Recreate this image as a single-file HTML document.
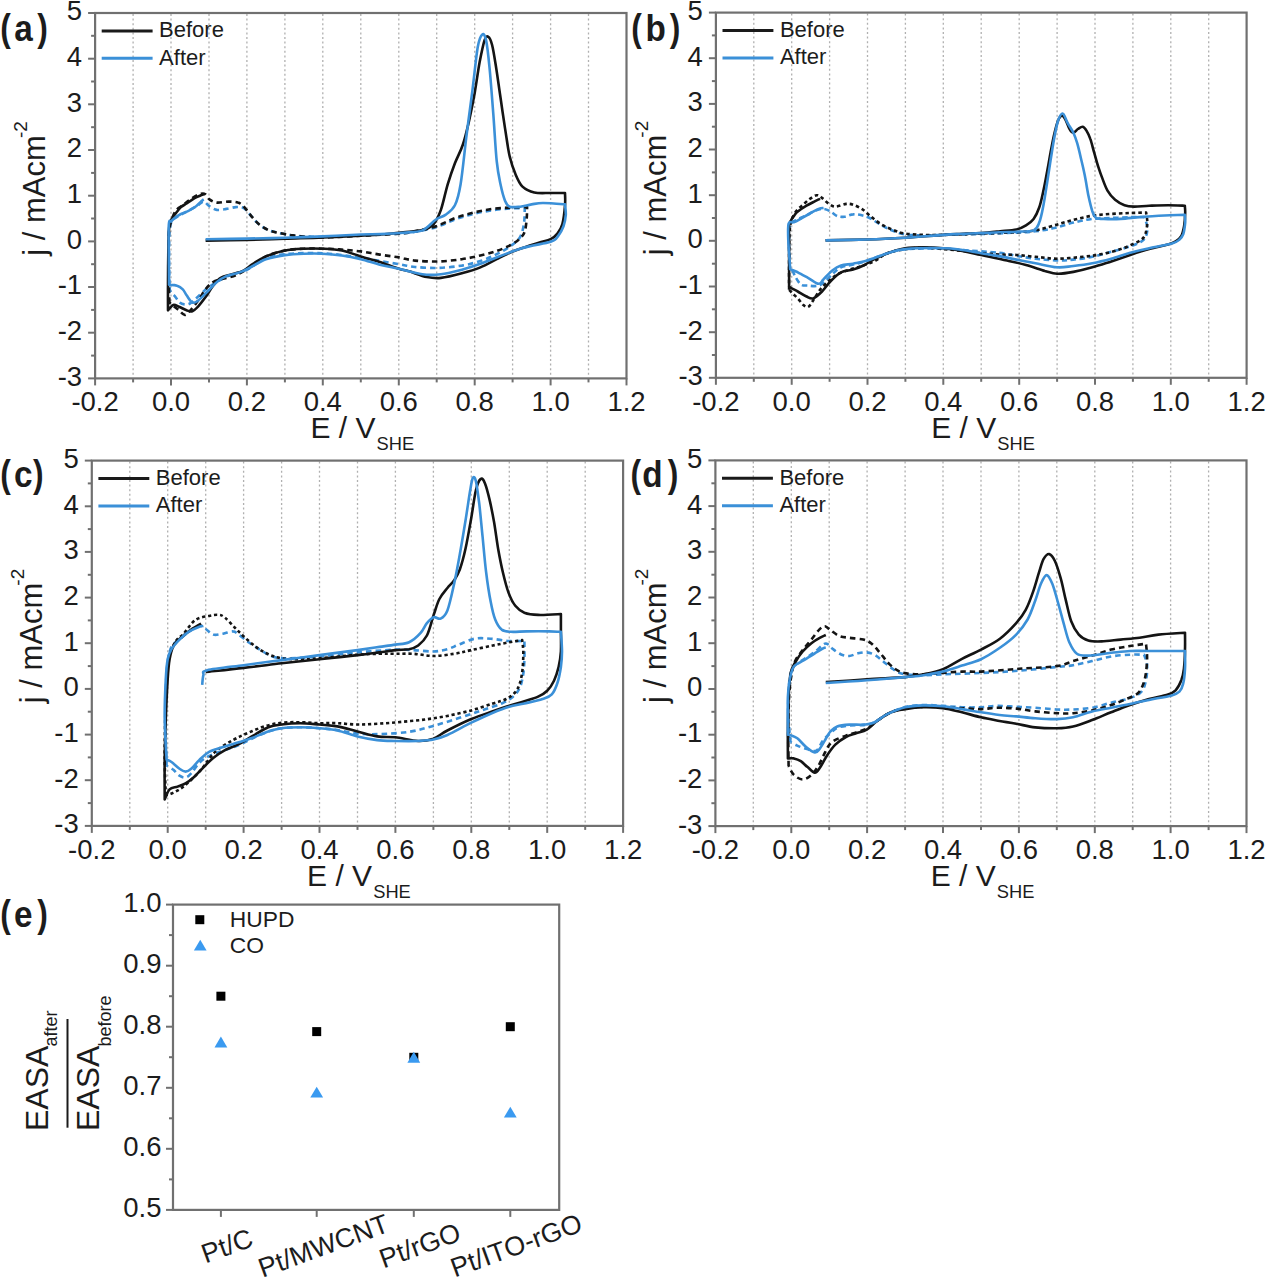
<!DOCTYPE html>
<html><head><meta charset="utf-8"><style>
html,body{margin:0;padding:0;background:#fff;}
svg{display:block;}
text{font-family:"Liberation Sans", sans-serif;fill:#1c1c1c;}
</style></head><body>
<svg width="1267" height="1280" viewBox="0 0 1267 1280">
<rect width="1267" height="1280" fill="#fff"/>
<line x1="133.1" y1="14" x2="133.1" y2="377.4" stroke="#b0b0b0" stroke-width="1.3" stroke-dasharray="2 2.6"/>
<line x1="171" y1="14" x2="171" y2="377.4" stroke="#b0b0b0" stroke-width="1.3" stroke-dasharray="2 2.6"/>
<line x1="209" y1="14" x2="209" y2="377.4" stroke="#b0b0b0" stroke-width="1.3" stroke-dasharray="2 2.6"/>
<line x1="246.9" y1="14" x2="246.9" y2="377.4" stroke="#b0b0b0" stroke-width="1.3" stroke-dasharray="2 2.6"/>
<line x1="284.9" y1="14" x2="284.9" y2="377.4" stroke="#b0b0b0" stroke-width="1.3" stroke-dasharray="2 2.6"/>
<line x1="322.8" y1="14" x2="322.8" y2="377.4" stroke="#b0b0b0" stroke-width="1.3" stroke-dasharray="2 2.6"/>
<line x1="360.8" y1="14" x2="360.8" y2="377.4" stroke="#b0b0b0" stroke-width="1.3" stroke-dasharray="2 2.6"/>
<line x1="398.8" y1="14" x2="398.8" y2="377.4" stroke="#b0b0b0" stroke-width="1.3" stroke-dasharray="2 2.6"/>
<line x1="436.7" y1="14" x2="436.7" y2="377.4" stroke="#b0b0b0" stroke-width="1.3" stroke-dasharray="2 2.6"/>
<line x1="474.7" y1="14" x2="474.7" y2="377.4" stroke="#b0b0b0" stroke-width="1.3" stroke-dasharray="2 2.6"/>
<line x1="512.6" y1="14" x2="512.6" y2="377.4" stroke="#b0b0b0" stroke-width="1.3" stroke-dasharray="2 2.6"/>
<line x1="550.6" y1="14" x2="550.6" y2="377.4" stroke="#b0b0b0" stroke-width="1.3" stroke-dasharray="2 2.6"/>
<line x1="588.5" y1="14" x2="588.5" y2="377.4" stroke="#b0b0b0" stroke-width="1.3" stroke-dasharray="2 2.6"/>
<line x1="95.1" y1="378.4" x2="95.1" y2="385.4" stroke="#707070" stroke-width="2"/>
<line x1="133.1" y1="378.4" x2="133.1" y2="382.4" stroke="#707070" stroke-width="2"/>
<line x1="171" y1="378.4" x2="171" y2="385.4" stroke="#707070" stroke-width="2"/>
<line x1="209" y1="378.4" x2="209" y2="382.4" stroke="#707070" stroke-width="2"/>
<line x1="246.9" y1="378.4" x2="246.9" y2="385.4" stroke="#707070" stroke-width="2"/>
<line x1="284.9" y1="378.4" x2="284.9" y2="382.4" stroke="#707070" stroke-width="2"/>
<line x1="322.8" y1="378.4" x2="322.8" y2="385.4" stroke="#707070" stroke-width="2"/>
<line x1="360.8" y1="378.4" x2="360.8" y2="382.4" stroke="#707070" stroke-width="2"/>
<line x1="398.8" y1="378.4" x2="398.8" y2="385.4" stroke="#707070" stroke-width="2"/>
<line x1="436.7" y1="378.4" x2="436.7" y2="382.4" stroke="#707070" stroke-width="2"/>
<line x1="474.7" y1="378.4" x2="474.7" y2="385.4" stroke="#707070" stroke-width="2"/>
<line x1="512.6" y1="378.4" x2="512.6" y2="382.4" stroke="#707070" stroke-width="2"/>
<line x1="550.6" y1="378.4" x2="550.6" y2="385.4" stroke="#707070" stroke-width="2"/>
<line x1="588.5" y1="378.4" x2="588.5" y2="382.4" stroke="#707070" stroke-width="2"/>
<line x1="626.5" y1="378.4" x2="626.5" y2="385.4" stroke="#707070" stroke-width="2"/>
<line x1="95.1" y1="378.4" x2="88.1" y2="378.4" stroke="#707070" stroke-width="2"/>
<line x1="95.1" y1="355.6" x2="91.1" y2="355.6" stroke="#707070" stroke-width="2"/>
<line x1="95.1" y1="332.7" x2="88.1" y2="332.7" stroke="#707070" stroke-width="2"/>
<line x1="95.1" y1="309.9" x2="91.1" y2="309.9" stroke="#707070" stroke-width="2"/>
<line x1="95.1" y1="287" x2="88.1" y2="287" stroke="#707070" stroke-width="2"/>
<line x1="95.1" y1="264.2" x2="91.1" y2="264.2" stroke="#707070" stroke-width="2"/>
<line x1="95.1" y1="241.4" x2="88.1" y2="241.4" stroke="#707070" stroke-width="2"/>
<line x1="95.1" y1="218.5" x2="91.1" y2="218.5" stroke="#707070" stroke-width="2"/>
<line x1="95.1" y1="195.7" x2="88.1" y2="195.7" stroke="#707070" stroke-width="2"/>
<line x1="95.1" y1="172.9" x2="91.1" y2="172.9" stroke="#707070" stroke-width="2"/>
<line x1="95.1" y1="150" x2="88.1" y2="150" stroke="#707070" stroke-width="2"/>
<line x1="95.1" y1="127.2" x2="91.1" y2="127.2" stroke="#707070" stroke-width="2"/>
<line x1="95.1" y1="104.3" x2="88.1" y2="104.3" stroke="#707070" stroke-width="2"/>
<line x1="95.1" y1="81.5" x2="91.1" y2="81.5" stroke="#707070" stroke-width="2"/>
<line x1="95.1" y1="58.7" x2="88.1" y2="58.7" stroke="#707070" stroke-width="2"/>
<line x1="95.1" y1="35.8" x2="91.1" y2="35.8" stroke="#707070" stroke-width="2"/>
<line x1="95.1" y1="13" x2="88.1" y2="13" stroke="#707070" stroke-width="2"/>
<rect x="95.1" y="13" width="531.4" height="365.4" fill="none" stroke="#707070" stroke-width="2.2"/>
<text x="82.1" y="385.8" text-anchor="end" font-size="27.5">-3</text>
<text x="82.1" y="340.1" text-anchor="end" font-size="27.5">-2</text>
<text x="82.1" y="294.4" text-anchor="end" font-size="27.5">-1</text>
<text x="82.1" y="248.8" text-anchor="end" font-size="27.5">0</text>
<text x="82.1" y="203.1" text-anchor="end" font-size="27.5">1</text>
<text x="82.1" y="157.4" text-anchor="end" font-size="27.5">2</text>
<text x="82.1" y="111.8" text-anchor="end" font-size="27.5">3</text>
<text x="82.1" y="66.1" text-anchor="end" font-size="27.5">4</text>
<text x="82.1" y="20.4" text-anchor="end" font-size="27.5">5</text>
<text x="95.1" y="411.3" text-anchor="middle" font-size="27.5">-0.2</text>
<text x="171" y="411.3" text-anchor="middle" font-size="27.5">0.0</text>
<text x="246.9" y="411.3" text-anchor="middle" font-size="27.5">0.2</text>
<text x="322.8" y="411.3" text-anchor="middle" font-size="27.5">0.4</text>
<text x="398.8" y="411.3" text-anchor="middle" font-size="27.5">0.6</text>
<text x="474.7" y="411.3" text-anchor="middle" font-size="27.5">0.8</text>
<text x="550.6" y="411.3" text-anchor="middle" font-size="27.5">1.0</text>
<text x="626.5" y="411.3" text-anchor="middle" font-size="27.5">1.2</text>
<text x="310.4" y="438.2" font-size="30">E / V</text>
<text x="376.5" y="450.4" font-size="18.3">SHE</text>
<text transform="translate(45.4,255.7) rotate(-90)" font-size="31">j / mAcm</text>
<text transform="translate(27.4,138.1) rotate(-90)" font-size="19">-2</text>
<line x1="101.7" y1="30.9" x2="152.6" y2="30.9" stroke="#1a1a1a" stroke-width="3"/>
<line x1="101.7" y1="58.3" x2="152.6" y2="58.3" stroke="#3b90d8" stroke-width="3"/>
<text x="159.1" y="37.4" font-size="22">Before</text>
<text x="159.1" y="64.8" font-size="22">After</text>
<line x1="753.8" y1="13.6" x2="753.8" y2="376.8" stroke="#b0b0b0" stroke-width="1.3" stroke-dasharray="2 2.6"/>
<line x1="791.7" y1="13.6" x2="791.7" y2="376.8" stroke="#b0b0b0" stroke-width="1.3" stroke-dasharray="2 2.6"/>
<line x1="829.6" y1="13.6" x2="829.6" y2="376.8" stroke="#b0b0b0" stroke-width="1.3" stroke-dasharray="2 2.6"/>
<line x1="867.5" y1="13.6" x2="867.5" y2="376.8" stroke="#b0b0b0" stroke-width="1.3" stroke-dasharray="2 2.6"/>
<line x1="905.4" y1="13.6" x2="905.4" y2="376.8" stroke="#b0b0b0" stroke-width="1.3" stroke-dasharray="2 2.6"/>
<line x1="943.3" y1="13.6" x2="943.3" y2="376.8" stroke="#b0b0b0" stroke-width="1.3" stroke-dasharray="2 2.6"/>
<line x1="981.2" y1="13.6" x2="981.2" y2="376.8" stroke="#b0b0b0" stroke-width="1.3" stroke-dasharray="2 2.6"/>
<line x1="1019.2" y1="13.6" x2="1019.2" y2="376.8" stroke="#b0b0b0" stroke-width="1.3" stroke-dasharray="2 2.6"/>
<line x1="1057.1" y1="13.6" x2="1057.1" y2="376.8" stroke="#b0b0b0" stroke-width="1.3" stroke-dasharray="2 2.6"/>
<line x1="1095" y1="13.6" x2="1095" y2="376.8" stroke="#b0b0b0" stroke-width="1.3" stroke-dasharray="2 2.6"/>
<line x1="1132.9" y1="13.6" x2="1132.9" y2="376.8" stroke="#b0b0b0" stroke-width="1.3" stroke-dasharray="2 2.6"/>
<line x1="1170.8" y1="13.6" x2="1170.8" y2="376.8" stroke="#b0b0b0" stroke-width="1.3" stroke-dasharray="2 2.6"/>
<line x1="1208.7" y1="13.6" x2="1208.7" y2="376.8" stroke="#b0b0b0" stroke-width="1.3" stroke-dasharray="2 2.6"/>
<line x1="715.9" y1="377.8" x2="715.9" y2="384.8" stroke="#707070" stroke-width="2"/>
<line x1="753.8" y1="377.8" x2="753.8" y2="381.8" stroke="#707070" stroke-width="2"/>
<line x1="791.7" y1="377.8" x2="791.7" y2="384.8" stroke="#707070" stroke-width="2"/>
<line x1="829.6" y1="377.8" x2="829.6" y2="381.8" stroke="#707070" stroke-width="2"/>
<line x1="867.5" y1="377.8" x2="867.5" y2="384.8" stroke="#707070" stroke-width="2"/>
<line x1="905.4" y1="377.8" x2="905.4" y2="381.8" stroke="#707070" stroke-width="2"/>
<line x1="943.3" y1="377.8" x2="943.3" y2="384.8" stroke="#707070" stroke-width="2"/>
<line x1="981.2" y1="377.8" x2="981.2" y2="381.8" stroke="#707070" stroke-width="2"/>
<line x1="1019.2" y1="377.8" x2="1019.2" y2="384.8" stroke="#707070" stroke-width="2"/>
<line x1="1057.1" y1="377.8" x2="1057.1" y2="381.8" stroke="#707070" stroke-width="2"/>
<line x1="1095" y1="377.8" x2="1095" y2="384.8" stroke="#707070" stroke-width="2"/>
<line x1="1132.9" y1="377.8" x2="1132.9" y2="381.8" stroke="#707070" stroke-width="2"/>
<line x1="1170.8" y1="377.8" x2="1170.8" y2="384.8" stroke="#707070" stroke-width="2"/>
<line x1="1208.7" y1="377.8" x2="1208.7" y2="381.8" stroke="#707070" stroke-width="2"/>
<line x1="1246.6" y1="377.8" x2="1246.6" y2="384.8" stroke="#707070" stroke-width="2"/>
<line x1="715.9" y1="377.8" x2="708.9" y2="377.8" stroke="#707070" stroke-width="2"/>
<line x1="715.9" y1="355" x2="711.9" y2="355" stroke="#707070" stroke-width="2"/>
<line x1="715.9" y1="332.2" x2="708.9" y2="332.2" stroke="#707070" stroke-width="2"/>
<line x1="715.9" y1="309.3" x2="711.9" y2="309.3" stroke="#707070" stroke-width="2"/>
<line x1="715.9" y1="286.5" x2="708.9" y2="286.5" stroke="#707070" stroke-width="2"/>
<line x1="715.9" y1="263.7" x2="711.9" y2="263.7" stroke="#707070" stroke-width="2"/>
<line x1="715.9" y1="240.8" x2="708.9" y2="240.8" stroke="#707070" stroke-width="2"/>
<line x1="715.9" y1="218" x2="711.9" y2="218" stroke="#707070" stroke-width="2"/>
<line x1="715.9" y1="195.2" x2="708.9" y2="195.2" stroke="#707070" stroke-width="2"/>
<line x1="715.9" y1="172.4" x2="711.9" y2="172.4" stroke="#707070" stroke-width="2"/>
<line x1="715.9" y1="149.5" x2="708.9" y2="149.5" stroke="#707070" stroke-width="2"/>
<line x1="715.9" y1="126.7" x2="711.9" y2="126.7" stroke="#707070" stroke-width="2"/>
<line x1="715.9" y1="103.9" x2="708.9" y2="103.9" stroke="#707070" stroke-width="2"/>
<line x1="715.9" y1="81.1" x2="711.9" y2="81.1" stroke="#707070" stroke-width="2"/>
<line x1="715.9" y1="58.2" x2="708.9" y2="58.2" stroke="#707070" stroke-width="2"/>
<line x1="715.9" y1="35.4" x2="711.9" y2="35.4" stroke="#707070" stroke-width="2"/>
<line x1="715.9" y1="12.6" x2="708.9" y2="12.6" stroke="#707070" stroke-width="2"/>
<rect x="715.9" y="12.6" width="530.7" height="365.2" fill="none" stroke="#707070" stroke-width="2.2"/>
<text x="702.9" y="385.2" text-anchor="end" font-size="27.5">-3</text>
<text x="702.9" y="339.6" text-anchor="end" font-size="27.5">-2</text>
<text x="702.9" y="293.9" text-anchor="end" font-size="27.5">-1</text>
<text x="702.9" y="248.2" text-anchor="end" font-size="27.5">0</text>
<text x="702.9" y="202.6" text-anchor="end" font-size="27.5">1</text>
<text x="702.9" y="156.9" text-anchor="end" font-size="27.5">2</text>
<text x="702.9" y="111.3" text-anchor="end" font-size="27.5">3</text>
<text x="702.9" y="65.7" text-anchor="end" font-size="27.5">4</text>
<text x="702.9" y="20" text-anchor="end" font-size="27.5">5</text>
<text x="715.9" y="410.7" text-anchor="middle" font-size="27.5">-0.2</text>
<text x="791.7" y="410.7" text-anchor="middle" font-size="27.5">0.0</text>
<text x="867.5" y="410.7" text-anchor="middle" font-size="27.5">0.2</text>
<text x="943.3" y="410.7" text-anchor="middle" font-size="27.5">0.4</text>
<text x="1019.2" y="410.7" text-anchor="middle" font-size="27.5">0.6</text>
<text x="1095" y="410.7" text-anchor="middle" font-size="27.5">0.8</text>
<text x="1170.8" y="410.7" text-anchor="middle" font-size="27.5">1.0</text>
<text x="1246.6" y="410.7" text-anchor="middle" font-size="27.5">1.2</text>
<text x="931.2" y="437.6" font-size="30">E / V</text>
<text x="997.3" y="449.8" font-size="18.3">SHE</text>
<text transform="translate(666.2,255.3) rotate(-90)" font-size="31">j / mAcm</text>
<text transform="translate(648.2,137.7) rotate(-90)" font-size="19">-2</text>
<line x1="722.5" y1="30.5" x2="773.4" y2="30.5" stroke="#1a1a1a" stroke-width="3"/>
<line x1="722.5" y1="57.9" x2="773.4" y2="57.9" stroke="#3b90d8" stroke-width="3"/>
<text x="779.9" y="37" font-size="22">Before</text>
<text x="779.9" y="64.4" font-size="22">After</text>
<line x1="129.8" y1="461.6" x2="129.8" y2="824.9" stroke="#b0b0b0" stroke-width="1.3" stroke-dasharray="2 2.6"/>
<line x1="167.7" y1="461.6" x2="167.7" y2="824.9" stroke="#b0b0b0" stroke-width="1.3" stroke-dasharray="2 2.6"/>
<line x1="205.7" y1="461.6" x2="205.7" y2="824.9" stroke="#b0b0b0" stroke-width="1.3" stroke-dasharray="2 2.6"/>
<line x1="243.6" y1="461.6" x2="243.6" y2="824.9" stroke="#b0b0b0" stroke-width="1.3" stroke-dasharray="2 2.6"/>
<line x1="281.6" y1="461.6" x2="281.6" y2="824.9" stroke="#b0b0b0" stroke-width="1.3" stroke-dasharray="2 2.6"/>
<line x1="319.5" y1="461.6" x2="319.5" y2="824.9" stroke="#b0b0b0" stroke-width="1.3" stroke-dasharray="2 2.6"/>
<line x1="357.5" y1="461.6" x2="357.5" y2="824.9" stroke="#b0b0b0" stroke-width="1.3" stroke-dasharray="2 2.6"/>
<line x1="395.4" y1="461.6" x2="395.4" y2="824.9" stroke="#b0b0b0" stroke-width="1.3" stroke-dasharray="2 2.6"/>
<line x1="433.4" y1="461.6" x2="433.4" y2="824.9" stroke="#b0b0b0" stroke-width="1.3" stroke-dasharray="2 2.6"/>
<line x1="471.3" y1="461.6" x2="471.3" y2="824.9" stroke="#b0b0b0" stroke-width="1.3" stroke-dasharray="2 2.6"/>
<line x1="509.3" y1="461.6" x2="509.3" y2="824.9" stroke="#b0b0b0" stroke-width="1.3" stroke-dasharray="2 2.6"/>
<line x1="547.2" y1="461.6" x2="547.2" y2="824.9" stroke="#b0b0b0" stroke-width="1.3" stroke-dasharray="2 2.6"/>
<line x1="585.2" y1="461.6" x2="585.2" y2="824.9" stroke="#b0b0b0" stroke-width="1.3" stroke-dasharray="2 2.6"/>
<line x1="91.8" y1="825.9" x2="91.8" y2="832.9" stroke="#707070" stroke-width="2"/>
<line x1="129.8" y1="825.9" x2="129.8" y2="829.9" stroke="#707070" stroke-width="2"/>
<line x1="167.7" y1="825.9" x2="167.7" y2="832.9" stroke="#707070" stroke-width="2"/>
<line x1="205.7" y1="825.9" x2="205.7" y2="829.9" stroke="#707070" stroke-width="2"/>
<line x1="243.6" y1="825.9" x2="243.6" y2="832.9" stroke="#707070" stroke-width="2"/>
<line x1="281.6" y1="825.9" x2="281.6" y2="829.9" stroke="#707070" stroke-width="2"/>
<line x1="319.5" y1="825.9" x2="319.5" y2="832.9" stroke="#707070" stroke-width="2"/>
<line x1="357.5" y1="825.9" x2="357.5" y2="829.9" stroke="#707070" stroke-width="2"/>
<line x1="395.4" y1="825.9" x2="395.4" y2="832.9" stroke="#707070" stroke-width="2"/>
<line x1="433.4" y1="825.9" x2="433.4" y2="829.9" stroke="#707070" stroke-width="2"/>
<line x1="471.3" y1="825.9" x2="471.3" y2="832.9" stroke="#707070" stroke-width="2"/>
<line x1="509.3" y1="825.9" x2="509.3" y2="829.9" stroke="#707070" stroke-width="2"/>
<line x1="547.2" y1="825.9" x2="547.2" y2="832.9" stroke="#707070" stroke-width="2"/>
<line x1="585.2" y1="825.9" x2="585.2" y2="829.9" stroke="#707070" stroke-width="2"/>
<line x1="623.1" y1="825.9" x2="623.1" y2="832.9" stroke="#707070" stroke-width="2"/>
<line x1="91.8" y1="825.9" x2="84.8" y2="825.9" stroke="#707070" stroke-width="2"/>
<line x1="91.8" y1="803.1" x2="87.8" y2="803.1" stroke="#707070" stroke-width="2"/>
<line x1="91.8" y1="780.2" x2="84.8" y2="780.2" stroke="#707070" stroke-width="2"/>
<line x1="91.8" y1="757.4" x2="87.8" y2="757.4" stroke="#707070" stroke-width="2"/>
<line x1="91.8" y1="734.6" x2="84.8" y2="734.6" stroke="#707070" stroke-width="2"/>
<line x1="91.8" y1="711.7" x2="87.8" y2="711.7" stroke="#707070" stroke-width="2"/>
<line x1="91.8" y1="688.9" x2="84.8" y2="688.9" stroke="#707070" stroke-width="2"/>
<line x1="91.8" y1="666.1" x2="87.8" y2="666.1" stroke="#707070" stroke-width="2"/>
<line x1="91.8" y1="643.2" x2="84.8" y2="643.2" stroke="#707070" stroke-width="2"/>
<line x1="91.8" y1="620.4" x2="87.8" y2="620.4" stroke="#707070" stroke-width="2"/>
<line x1="91.8" y1="597.6" x2="84.8" y2="597.6" stroke="#707070" stroke-width="2"/>
<line x1="91.8" y1="574.8" x2="87.8" y2="574.8" stroke="#707070" stroke-width="2"/>
<line x1="91.8" y1="551.9" x2="84.8" y2="551.9" stroke="#707070" stroke-width="2"/>
<line x1="91.8" y1="529.1" x2="87.8" y2="529.1" stroke="#707070" stroke-width="2"/>
<line x1="91.8" y1="506.3" x2="84.8" y2="506.3" stroke="#707070" stroke-width="2"/>
<line x1="91.8" y1="483.4" x2="87.8" y2="483.4" stroke="#707070" stroke-width="2"/>
<line x1="91.8" y1="460.6" x2="84.8" y2="460.6" stroke="#707070" stroke-width="2"/>
<rect x="91.8" y="460.6" width="531.3" height="365.3" fill="none" stroke="#707070" stroke-width="2.2"/>
<text x="78.8" y="833.3" text-anchor="end" font-size="27.5">-3</text>
<text x="78.8" y="787.6" text-anchor="end" font-size="27.5">-2</text>
<text x="78.8" y="742" text-anchor="end" font-size="27.5">-1</text>
<text x="78.8" y="696.3" text-anchor="end" font-size="27.5">0</text>
<text x="78.8" y="650.6" text-anchor="end" font-size="27.5">1</text>
<text x="78.8" y="605" text-anchor="end" font-size="27.5">2</text>
<text x="78.8" y="559.3" text-anchor="end" font-size="27.5">3</text>
<text x="78.8" y="513.7" text-anchor="end" font-size="27.5">4</text>
<text x="78.8" y="468" text-anchor="end" font-size="27.5">5</text>
<text x="91.8" y="858.8" text-anchor="middle" font-size="27.5">-0.2</text>
<text x="167.7" y="858.8" text-anchor="middle" font-size="27.5">0.0</text>
<text x="243.6" y="858.8" text-anchor="middle" font-size="27.5">0.2</text>
<text x="319.5" y="858.8" text-anchor="middle" font-size="27.5">0.4</text>
<text x="395.4" y="858.8" text-anchor="middle" font-size="27.5">0.6</text>
<text x="471.3" y="858.8" text-anchor="middle" font-size="27.5">0.8</text>
<text x="547.2" y="858.8" text-anchor="middle" font-size="27.5">1.0</text>
<text x="623.1" y="858.8" text-anchor="middle" font-size="27.5">1.2</text>
<text x="307.1" y="885.7" font-size="30">E / V</text>
<text x="373.2" y="897.9" font-size="18.3">SHE</text>
<text transform="translate(42.1,703.3) rotate(-90)" font-size="31">j / mAcm</text>
<text transform="translate(24.1,585.7) rotate(-90)" font-size="19">-2</text>
<line x1="98.4" y1="478.5" x2="149.3" y2="478.5" stroke="#1a1a1a" stroke-width="3"/>
<line x1="98.4" y1="505.9" x2="149.3" y2="505.9" stroke="#3b90d8" stroke-width="3"/>
<text x="155.8" y="485" font-size="22">Before</text>
<text x="155.8" y="512.4" font-size="22">After</text>
<line x1="753.3" y1="461.4" x2="753.3" y2="825.1" stroke="#b0b0b0" stroke-width="1.3" stroke-dasharray="2 2.6"/>
<line x1="791.3" y1="461.4" x2="791.3" y2="825.1" stroke="#b0b0b0" stroke-width="1.3" stroke-dasharray="2 2.6"/>
<line x1="829.2" y1="461.4" x2="829.2" y2="825.1" stroke="#b0b0b0" stroke-width="1.3" stroke-dasharray="2 2.6"/>
<line x1="867.1" y1="461.4" x2="867.1" y2="825.1" stroke="#b0b0b0" stroke-width="1.3" stroke-dasharray="2 2.6"/>
<line x1="905.1" y1="461.4" x2="905.1" y2="825.1" stroke="#b0b0b0" stroke-width="1.3" stroke-dasharray="2 2.6"/>
<line x1="943" y1="461.4" x2="943" y2="825.1" stroke="#b0b0b0" stroke-width="1.3" stroke-dasharray="2 2.6"/>
<line x1="981" y1="461.4" x2="981" y2="825.1" stroke="#b0b0b0" stroke-width="1.3" stroke-dasharray="2 2.6"/>
<line x1="1018.9" y1="461.4" x2="1018.9" y2="825.1" stroke="#b0b0b0" stroke-width="1.3" stroke-dasharray="2 2.6"/>
<line x1="1056.8" y1="461.4" x2="1056.8" y2="825.1" stroke="#b0b0b0" stroke-width="1.3" stroke-dasharray="2 2.6"/>
<line x1="1094.8" y1="461.4" x2="1094.8" y2="825.1" stroke="#b0b0b0" stroke-width="1.3" stroke-dasharray="2 2.6"/>
<line x1="1132.7" y1="461.4" x2="1132.7" y2="825.1" stroke="#b0b0b0" stroke-width="1.3" stroke-dasharray="2 2.6"/>
<line x1="1170.6" y1="461.4" x2="1170.6" y2="825.1" stroke="#b0b0b0" stroke-width="1.3" stroke-dasharray="2 2.6"/>
<line x1="1208.6" y1="461.4" x2="1208.6" y2="825.1" stroke="#b0b0b0" stroke-width="1.3" stroke-dasharray="2 2.6"/>
<line x1="715.4" y1="826.1" x2="715.4" y2="833.1" stroke="#707070" stroke-width="2"/>
<line x1="753.3" y1="826.1" x2="753.3" y2="830.1" stroke="#707070" stroke-width="2"/>
<line x1="791.3" y1="826.1" x2="791.3" y2="833.1" stroke="#707070" stroke-width="2"/>
<line x1="829.2" y1="826.1" x2="829.2" y2="830.1" stroke="#707070" stroke-width="2"/>
<line x1="867.1" y1="826.1" x2="867.1" y2="833.1" stroke="#707070" stroke-width="2"/>
<line x1="905.1" y1="826.1" x2="905.1" y2="830.1" stroke="#707070" stroke-width="2"/>
<line x1="943" y1="826.1" x2="943" y2="833.1" stroke="#707070" stroke-width="2"/>
<line x1="981" y1="826.1" x2="981" y2="830.1" stroke="#707070" stroke-width="2"/>
<line x1="1018.9" y1="826.1" x2="1018.9" y2="833.1" stroke="#707070" stroke-width="2"/>
<line x1="1056.8" y1="826.1" x2="1056.8" y2="830.1" stroke="#707070" stroke-width="2"/>
<line x1="1094.8" y1="826.1" x2="1094.8" y2="833.1" stroke="#707070" stroke-width="2"/>
<line x1="1132.7" y1="826.1" x2="1132.7" y2="830.1" stroke="#707070" stroke-width="2"/>
<line x1="1170.6" y1="826.1" x2="1170.6" y2="833.1" stroke="#707070" stroke-width="2"/>
<line x1="1208.6" y1="826.1" x2="1208.6" y2="830.1" stroke="#707070" stroke-width="2"/>
<line x1="1246.5" y1="826.1" x2="1246.5" y2="833.1" stroke="#707070" stroke-width="2"/>
<line x1="715.4" y1="826.1" x2="708.4" y2="826.1" stroke="#707070" stroke-width="2"/>
<line x1="715.4" y1="803.2" x2="711.4" y2="803.2" stroke="#707070" stroke-width="2"/>
<line x1="715.4" y1="780.4" x2="708.4" y2="780.4" stroke="#707070" stroke-width="2"/>
<line x1="715.4" y1="757.5" x2="711.4" y2="757.5" stroke="#707070" stroke-width="2"/>
<line x1="715.4" y1="734.7" x2="708.4" y2="734.7" stroke="#707070" stroke-width="2"/>
<line x1="715.4" y1="711.8" x2="711.4" y2="711.8" stroke="#707070" stroke-width="2"/>
<line x1="715.4" y1="689" x2="708.4" y2="689" stroke="#707070" stroke-width="2"/>
<line x1="715.4" y1="666.1" x2="711.4" y2="666.1" stroke="#707070" stroke-width="2"/>
<line x1="715.4" y1="643.2" x2="708.4" y2="643.2" stroke="#707070" stroke-width="2"/>
<line x1="715.4" y1="620.4" x2="711.4" y2="620.4" stroke="#707070" stroke-width="2"/>
<line x1="715.4" y1="597.5" x2="708.4" y2="597.5" stroke="#707070" stroke-width="2"/>
<line x1="715.4" y1="574.7" x2="711.4" y2="574.7" stroke="#707070" stroke-width="2"/>
<line x1="715.4" y1="551.8" x2="708.4" y2="551.8" stroke="#707070" stroke-width="2"/>
<line x1="715.4" y1="529" x2="711.4" y2="529" stroke="#707070" stroke-width="2"/>
<line x1="715.4" y1="506.1" x2="708.4" y2="506.1" stroke="#707070" stroke-width="2"/>
<line x1="715.4" y1="483.3" x2="711.4" y2="483.3" stroke="#707070" stroke-width="2"/>
<line x1="715.4" y1="460.4" x2="708.4" y2="460.4" stroke="#707070" stroke-width="2"/>
<rect x="715.4" y="460.4" width="531.1" height="365.7" fill="none" stroke="#707070" stroke-width="2.2"/>
<text x="702.4" y="833.5" text-anchor="end" font-size="27.5">-3</text>
<text x="702.4" y="787.8" text-anchor="end" font-size="27.5">-2</text>
<text x="702.4" y="742.1" text-anchor="end" font-size="27.5">-1</text>
<text x="702.4" y="696.4" text-anchor="end" font-size="27.5">0</text>
<text x="702.4" y="650.6" text-anchor="end" font-size="27.5">1</text>
<text x="702.4" y="604.9" text-anchor="end" font-size="27.5">2</text>
<text x="702.4" y="559.2" text-anchor="end" font-size="27.5">3</text>
<text x="702.4" y="513.5" text-anchor="end" font-size="27.5">4</text>
<text x="702.4" y="467.8" text-anchor="end" font-size="27.5">5</text>
<text x="715.4" y="859" text-anchor="middle" font-size="27.5">-0.2</text>
<text x="791.3" y="859" text-anchor="middle" font-size="27.5">0.0</text>
<text x="867.1" y="859" text-anchor="middle" font-size="27.5">0.2</text>
<text x="943" y="859" text-anchor="middle" font-size="27.5">0.4</text>
<text x="1018.9" y="859" text-anchor="middle" font-size="27.5">0.6</text>
<text x="1094.8" y="859" text-anchor="middle" font-size="27.5">0.8</text>
<text x="1170.6" y="859" text-anchor="middle" font-size="27.5">1.0</text>
<text x="1246.5" y="859" text-anchor="middle" font-size="27.5">1.2</text>
<text x="930.7" y="885.9" font-size="30">E / V</text>
<text x="996.8" y="898.1" font-size="18.3">SHE</text>
<text transform="translate(665.7,703.1) rotate(-90)" font-size="31">j / mAcm</text>
<text transform="translate(647.7,585.5) rotate(-90)" font-size="19">-2</text>
<line x1="722" y1="478.3" x2="772.9" y2="478.3" stroke="#1a1a1a" stroke-width="3"/>
<line x1="722" y1="505.7" x2="772.9" y2="505.7" stroke="#3b90d8" stroke-width="3"/>
<text x="779.4" y="484.8" font-size="22">Before</text>
<text x="779.4" y="512.2" font-size="22">After</text>
<path d="M169.5,284.8 C169.4,281.3 169.1,273.0 169.1,264.2 C169.1,255.5 169.0,239.5 169.5,232.2 C170.0,225.0 170.6,223.6 172.2,220.8 C173.7,218.1 176.3,217.5 179.0,215.8 C181.7,214.1 185.3,212.5 188.5,210.8 C191.6,209.0 195.4,206.8 198.0,205.3 C200.5,203.8 201.8,201.5 203.7,201.6 C205.6,201.8 207.1,204.8 209.4,206.2 C211.6,207.6 214.1,209.4 216.9,209.9 C219.8,210.3 223.3,209.4 226.4,208.9 C229.6,208.5 233.1,207.3 235.9,207.1 C238.8,207.0 241.0,206.6 243.5,208.0 C246.0,209.5 248.6,213.1 251.1,215.8 C253.6,218.5 255.8,221.7 258.7,224.0 C261.5,226.4 265.0,228.5 268.2,230.0 C271.3,231.4 273.6,231.8 277.7,232.7 C281.8,233.6 287.2,234.8 292.9,235.4 C298.6,236.1 305.6,236.6 311.8,236.8 C318.1,237.0 324.2,237.0 330.4,236.8 C336.7,236.7 343.1,236.2 349.4,235.9 C355.7,235.6 360.2,235.4 368.4,235.0 C376.6,234.6 391.0,234.1 398.8,233.6 C406.5,233.1 408.9,232.8 415.1,231.8 C421.3,230.7 429.3,229.3 436.0,227.2 C442.6,225.2 448.7,221.7 454.9,219.5 C461.2,217.2 467.3,215.5 473.5,214.0 C479.7,212.4 485.9,211.2 492.1,210.3 C498.3,209.4 505.3,208.9 510.7,208.5 C516.2,208.1 522.4,208.1 524.8,208.0 C524.6,210.5 524.8,218.3 524.0,223.1 C523.3,227.9 522.4,233.0 520.2,236.8 C518.0,240.6 514.7,243.0 510.7,245.9 C506.8,248.8 501.7,251.7 496.7,254.2 C491.6,256.7 486.2,259.1 480.4,261.0 C474.5,262.9 468.7,264.4 461.8,265.6 C454.8,266.7 446.4,267.6 438.6,267.9 C430.8,268.1 421.7,267.6 415.1,267.0 C408.4,266.3 407.8,265.7 398.8,264.2 C389.7,262.7 373.5,259.6 360.8,257.8 C348.1,256.0 335.5,253.9 322.8,253.3 C310.2,252.6 294.4,253.3 284.9,254.2 C275.4,255.0 272.2,255.7 265.9,258.3 C259.6,260.9 253.3,266.7 246.9,269.7 C240.6,272.7 234.3,273.2 227.9,276.1 C221.6,279.0 214.0,283.5 209.0,287.0 C203.9,290.6 200.7,294.4 197.6,297.1 C194.4,299.8 192.2,302.3 190.0,303.5 C187.8,304.7 186.0,304.6 184.3,304.4 C182.6,304.3 181.3,303.9 179.7,302.6 C178.2,301.2 176.4,298.1 174.8,296.2 C173.2,294.3 171.1,293.1 170.3,291.2 C169.4,289.3 169.6,285.8 169.5,284.8" fill="none" stroke="#3b90d8" stroke-width="2.6" stroke-linejoin="round" stroke-dasharray="5.5 4"/>
<path d="M169.5,302.6 C169.4,299.2 168.9,291.9 168.7,282.5 C168.6,273.0 168.6,255.1 168.7,245.9 C168.9,236.8 168.4,233.4 169.5,227.7 C170.6,222.0 173.0,215.4 175.2,211.7 C177.4,208.0 180.3,207.3 182.8,205.3 C185.3,203.2 187.8,201.1 190.4,199.4 C192.9,197.6 195.6,195.7 198.0,194.8 C200.4,193.9 202.9,193.1 204.8,193.9 C206.7,194.6 207.3,197.9 209.4,199.4 C211.4,200.8 213.8,202.2 216.9,202.6 C220.1,202.9 224.9,201.6 228.3,201.6 C231.8,201.6 235.3,201.8 237.8,202.6 C240.3,203.3 241.3,204.0 243.5,206.2 C245.7,208.4 248.6,212.8 251.1,215.8 C253.6,218.8 255.8,221.7 258.7,224.0 C261.5,226.4 265.0,228.5 268.2,230.0 C271.3,231.4 273.6,231.8 277.7,232.7 C281.8,233.6 287.2,234.7 292.9,235.4 C298.6,236.2 305.6,237.0 311.8,237.3 C318.1,237.6 324.2,237.4 330.4,237.3 C336.7,237.1 343.1,236.7 349.4,236.4 C355.7,236.0 360.2,235.9 368.4,235.4 C376.6,235.0 391.0,234.3 398.8,233.6 C406.5,232.9 408.9,232.5 415.1,231.3 C421.3,230.1 429.3,228.5 436.0,226.3 C442.6,224.1 448.7,220.4 454.9,218.1 C461.2,215.8 467.3,214.1 473.5,212.6 C479.7,211.1 485.9,209.8 492.1,208.9 C498.3,208.1 504.9,207.9 510.7,207.6 C516.6,207.3 524.3,207.2 527.1,207.1 C527.0,209.0 527.1,214.5 526.7,218.5 C526.3,222.6 525.9,228.1 524.8,231.3 C523.7,234.6 522.6,235.9 520.2,238.2 C517.9,240.5 514.7,242.9 510.7,245.0 C506.8,247.2 501.7,249.2 496.7,251.0 C491.6,252.7 486.2,254.2 480.4,255.5 C474.5,256.9 468.7,258.2 461.8,259.2 C454.8,260.2 446.4,261.2 438.6,261.5 C430.8,261.7 421.7,261.2 415.1,260.6 C408.4,259.9 404.6,258.4 398.8,257.4 C392.9,256.4 386.1,255.6 379.8,254.6 C373.5,253.6 367.1,252.3 360.8,251.4 C354.5,250.6 348.1,250.1 341.8,249.6 C335.5,249.1 329.2,248.8 322.8,248.7 C316.5,248.5 310.2,248.4 303.9,248.7 C297.5,249.0 291.2,249.2 284.9,250.5 C278.6,251.8 271.5,253.8 265.9,256.4 C260.3,259.1 256.1,263.4 251.1,266.5 C246.1,269.6 240.7,273.1 235.9,275.2 C231.2,277.2 226.4,277.7 222.6,278.8 C218.8,280.0 216.0,280.3 213.1,282.0 C210.3,283.8 208.1,286.2 205.6,289.3 C203.0,292.5 200.5,297.3 198.0,300.8 C195.4,304.3 192.6,308.0 190.4,310.3 C188.2,312.7 186.6,314.9 184.7,314.9 C182.8,314.9 180.9,311.9 179.0,310.3 C177.1,308.8 174.9,307.1 173.3,305.8 C171.7,304.5 170.1,303.1 169.5,302.6" fill="none" stroke="#141414" stroke-width="2.6" stroke-linejoin="round" stroke-dasharray="5.5 4"/>
<path d="M205.6,240.6 C212.5,240.5 233.7,240.3 246.9,240.0 C260.2,239.7 272.2,239.2 284.9,238.8 C297.5,238.3 310.2,238.0 322.8,237.4 C335.5,236.9 351.2,236.1 360.8,235.6 C370.4,235.1 373.1,235.1 380.2,234.5 C387.2,234.0 396.3,233.0 403.3,232.2 C410.3,231.5 417.2,231.3 422.3,230.0 C427.4,228.6 430.6,227.4 433.7,224.0 C436.8,220.7 438.5,216.5 440.9,209.9 C443.2,203.2 445.4,192.0 447.7,184.3 C450.1,176.5 452.4,169.9 454.9,163.3 C457.5,156.6 460.6,151.5 462.9,144.5 C465.2,137.5 467.0,129.9 469.0,121.2 C470.9,112.6 472.9,102.8 474.7,92.9 C476.4,83.1 478.0,71.1 479.6,62.3 C481.3,53.6 483.1,44.7 484.5,40.4 C486.0,36.1 487.1,36.0 488.3,36.8 C489.6,37.5 490.8,39.6 492.1,45.0 C493.5,50.3 494.9,60.0 496.3,68.7 C497.7,77.5 499.0,87.6 500.5,97.5 C501.9,107.4 503.5,118.4 505.0,128.1 C506.6,137.8 507.8,148.2 509.6,156.0 C511.4,163.7 513.5,169.6 515.7,174.7 C517.8,179.8 519.4,183.6 522.5,186.6 C525.6,189.5 529.6,191.4 534.3,192.5 C538.9,193.6 545.5,192.9 550.6,193.0 C555.7,193.0 562.6,193.0 565.0,193.0 C565.0,195.0 565.5,200.1 565.0,205.3 C564.6,210.5 563.6,219.3 562.4,224.0 C561.1,228.7 559.4,231.1 557.4,233.6 C555.5,236.1 553.7,237.6 550.6,239.1 C547.5,240.6 543.9,241.1 538.8,242.7 C533.8,244.3 524.9,247.1 520.2,248.7 C515.5,250.3 514.7,250.6 510.7,252.3 C506.8,254.1 501.7,256.7 496.7,259.2 C491.6,261.7 486.2,265.0 480.4,267.4 C474.5,269.8 468.3,271.6 461.8,273.3 C455.2,275.1 446.7,277.3 440.9,277.9 C435.1,278.5 432.3,278.1 426.8,277.0 C421.4,275.9 412.9,272.4 408.2,271.1 C403.6,269.7 403.5,270.3 398.8,268.8 C394.0,267.3 386.1,264.0 379.8,261.9 C373.5,259.9 367.1,258.4 360.8,256.4 C354.5,254.5 348.1,251.8 341.8,250.5 C335.5,249.2 329.2,249.0 322.8,248.7 C316.5,248.4 310.2,248.4 303.9,248.7 C297.5,249.0 291.2,249.2 284.9,250.5 C278.6,251.8 271.2,254.2 265.9,256.4 C260.6,258.7 256.7,261.4 253.0,263.8 C249.3,266.1 247.0,268.9 243.5,270.6 C240.0,272.4 235.9,273.0 232.1,274.3 C228.3,275.5 223.9,276.0 220.7,277.9 C217.6,279.8 215.7,282.5 213.1,285.7 C210.6,288.9 208.1,293.6 205.6,297.1 C203.0,300.6 200.2,304.3 198.0,306.7 C195.7,309.1 194.2,310.6 192.3,311.3 C190.4,311.9 188.8,311.1 186.6,310.3 C184.4,309.6 181.2,307.6 179.0,306.7 C176.8,305.8 175.1,304.3 173.3,304.9 C171.5,305.5 168.9,309.4 168.0,310.3 C168.0,305.9 167.9,294.6 168.0,283.9 C168.0,273.1 168.2,254.5 168.4,245.9 C168.5,237.4 168.5,236.5 168.7,232.7 C169.0,228.9 169.4,225.3 169.9,223.1 C170.3,220.9 170.5,221.0 171.4,219.5 C172.3,217.9 173.6,216.0 175.2,214.0 C176.8,211.9 179.0,208.9 180.9,207.1 C182.8,205.4 184.4,204.9 186.6,203.5 C188.8,202.0 192.0,199.7 194.2,198.4 C196.4,197.1 198.1,196.5 199.9,195.7 C201.6,194.9 204.0,194.2 204.8,193.9" fill="none" stroke="#141414" stroke-width="2.6" stroke-linejoin="round"/>
<path d="M205.6,239.3 C212.5,239.2 233.7,238.9 246.9,238.6 C260.2,238.4 272.2,238.1 284.9,237.7 C297.5,237.3 310.2,236.9 322.8,236.4 C335.5,235.8 351.2,234.9 360.8,234.5 C370.4,234.1 373.1,234.4 380.2,234.1 C387.2,233.8 396.3,233.3 403.3,232.7 C410.3,232.1 416.9,232.6 422.3,230.4 C427.7,228.2 432.1,222.0 436.0,219.5 C439.8,216.9 442.3,217.2 445.4,214.9 C448.6,212.5 452.4,210.4 454.9,205.3 C457.5,200.2 458.7,195.6 460.6,184.3 C462.5,172.9 464.4,152.8 466.3,137.2 C468.3,121.6 470.5,105.6 472.4,90.6 C474.3,75.7 476.1,56.6 477.7,47.3 C479.4,37.9 480.9,35.6 482.3,34.5 C483.7,33.3 484.9,34.9 486.1,40.4 C487.3,45.9 488.3,55.1 489.5,67.4 C490.7,79.6 492.1,98.3 493.3,113.9 C494.5,129.5 495.5,149.3 496.7,161.0 C497.9,172.7 499.1,177.7 500.5,184.3 C501.9,190.9 503.5,197.0 505.0,200.7 C506.6,204.5 507.1,205.7 509.6,206.7 C512.1,207.7 516.6,207.0 520.2,206.7 C523.9,206.3 527.8,205.0 531.6,204.4 C535.4,203.8 537.4,203.0 543.0,203.0 C548.6,203.0 561.3,204.1 565.0,204.4 C565.1,206.1 566.0,211.2 565.8,214.9 C565.5,218.5 564.8,222.8 563.5,226.3 C562.2,229.8 560.3,233.3 558.2,235.9 C556.0,238.5 556.9,239.7 550.6,241.8 C544.3,244.0 531.9,245.0 520.2,248.7 C508.5,252.3 490.1,260.3 480.4,263.8 C470.6,267.3 468.3,267.9 461.8,269.7 C455.2,271.4 447.5,273.5 440.9,274.3 C434.3,275.0 429.3,275.2 422.3,274.3 C415.3,273.3 405.8,270.4 398.8,268.8 C391.7,267.2 386.1,266.3 379.8,264.7 C373.5,263.1 367.1,260.7 360.8,259.2 C354.5,257.7 348.1,256.4 341.8,255.5 C335.5,254.6 329.2,254.0 322.8,253.7 C316.5,253.4 310.2,253.5 303.9,253.7 C297.5,253.9 291.2,254.2 284.9,255.1 C278.6,256.0 271.5,257.2 265.9,259.2 C260.3,261.2 255.5,264.7 251.1,267.0 C246.7,269.2 243.8,270.9 239.7,272.4 C235.6,274.0 230.2,274.5 226.4,276.1 C222.6,277.7 220.1,279.4 216.9,282.0 C213.8,284.6 210.6,288.5 207.5,291.6 C204.3,294.7 200.5,298.9 198.0,300.8 C195.4,302.6 194.2,303.5 192.3,302.6 C190.4,301.7 188.2,297.5 186.6,295.3 C185.0,293.1 184.4,290.9 182.8,289.3 C181.2,287.7 179.4,286.4 177.1,285.7 C174.8,284.9 170.4,284.9 169.1,284.8 C169.1,275.2 168.4,237.8 168.7,227.2 C169.1,216.6 170.3,222.9 171.4,221.3 C172.5,219.7 173.6,218.8 175.2,217.6 C176.8,216.4 178.7,215.1 180.9,214.0 C183.1,212.8 185.9,212.1 188.5,210.8 C191.0,209.5 194.0,207.7 196.1,206.2 C198.2,204.7 199.7,202.8 201.0,201.6 C202.3,200.5 203.2,199.7 203.7,199.4" fill="none" stroke="#3b90d8" stroke-width="2.6" stroke-linejoin="round"/>
<path d="M789.8,267.3 C789.7,262.9 789.0,247.9 789.1,240.8 C789.1,233.8 788.7,228.4 790.2,224.9 C791.7,221.3 795.1,221.0 797.8,219.4 C800.5,217.8 803.6,216.7 806.5,215.3 C809.4,213.8 812.4,211.8 815.2,210.7 C818.1,209.7 821.0,208.7 823.6,208.9 C826.1,209.0 828.4,210.4 830.8,211.6 C833.1,212.9 835.3,215.4 837.6,216.2 C839.9,217.0 841.8,217.0 844.4,216.7 C847.0,216.4 850.2,214.6 853.1,214.4 C856.0,214.1 858.9,214.6 861.8,215.3 C864.7,216.0 867.4,216.9 870.6,218.5 C873.7,220.1 877.1,222.8 880.8,224.9 C884.5,226.9 888.8,229.2 892.9,230.8 C897.0,232.4 900.3,233.7 905.4,234.5 C910.6,235.2 917.7,235.3 924.0,235.4 C930.3,235.4 933.8,235.1 943.3,234.9 C952.9,234.7 969.1,234.4 981.2,234.0 C993.4,233.6 1007.5,233.1 1016.5,232.6 C1025.5,232.2 1029.1,232.0 1035.5,231.3 C1041.8,230.5 1048.1,229.5 1054.4,228.1 C1060.7,226.6 1067.0,224.1 1073.4,222.6 C1079.7,221.1 1086.0,219.7 1092.3,218.9 C1098.6,218.2 1105.0,218.3 1111.3,218.0 C1117.6,217.7 1124.7,217.3 1130.2,217.1 C1135.7,217.0 1141.9,217.1 1144.3,217.1 C1144.8,218.7 1147.0,223.6 1147.3,226.7 C1147.6,229.8 1147.1,233.4 1146.1,235.8 C1145.2,238.3 1144.3,239.6 1141.6,241.3 C1138.9,243.1 1135.3,244.6 1130.2,246.3 C1125.2,248.1 1117.6,250.1 1111.3,251.8 C1105.0,253.6 1098.6,255.5 1092.3,256.8 C1086.0,258.1 1079.2,259.0 1073.4,259.6 C1067.5,260.2 1063.4,260.6 1057.1,260.5 C1050.7,260.3 1042.2,259.4 1035.5,258.7 C1028.7,257.9 1022.8,256.9 1016.5,255.9 C1010.2,254.9 1006.6,253.7 997.6,252.7 C988.5,251.7 971.3,250.7 962.3,250.0 C953.3,249.3 952.8,248.8 943.3,248.6 C933.9,248.5 914.7,248.3 905.4,249.1 C896.1,249.8 893.9,251.3 887.6,253.2 C881.3,255.1 873.3,258.6 867.5,260.5 C861.8,262.4 857.5,263.4 853.1,264.6 C848.7,265.7 844.5,265.7 841.0,267.3 C837.5,268.9 835.2,271.6 832.3,274.2 C829.4,276.8 826.1,280.9 823.6,282.8 C821.0,284.8 819.3,285.6 816.7,286.0 C814.1,286.5 810.6,285.8 808.0,285.6 C805.4,285.4 803.2,286.0 801.2,284.7 C799.2,283.4 797.3,280.2 795.9,277.8 C794.4,275.5 793.5,272.3 792.5,270.5 C791.5,268.8 790.3,267.9 789.8,267.3" fill="none" stroke="#3b90d8" stroke-width="2.6" stroke-linejoin="round" stroke-dasharray="5.5 3.5"/>
<path d="M789.1,289.7 C789.1,285.4 789.0,272.6 789.1,263.7 C789.1,254.8 789.1,243.2 789.4,236.3 C789.8,229.4 789.9,226.2 791.0,222.1 C792.0,218.0 793.9,214.5 795.9,211.6 C797.9,208.7 800.7,206.9 803.1,204.8 C805.4,202.7 807.6,200.4 809.9,198.9 C812.2,197.3 814.7,195.4 816.7,195.2 C818.8,195.0 820.0,196.5 822.0,197.9 C824.1,199.4 826.6,202.4 828.9,203.9 C831.1,205.3 832.8,206.6 835.7,206.6 C838.6,206.6 843.4,204.2 846.3,203.9 C849.2,203.6 850.5,203.9 853.1,204.8 C855.7,205.6 858.9,207.0 861.8,208.9 C864.7,210.8 867.4,213.7 870.6,216.2 C873.7,218.7 877.1,221.7 880.8,224.0 C884.5,226.2 888.9,228.3 892.9,229.9 C897.0,231.5 899.9,232.7 905.1,233.5 C910.2,234.4 917.6,234.7 924.0,234.9 C930.4,235.1 933.8,235.1 943.3,234.9 C952.9,234.7 969.1,234.0 981.2,233.5 C993.4,233.1 1007.5,232.7 1016.5,232.2 C1025.5,231.6 1029.1,231.5 1035.5,230.4 C1041.8,229.2 1048.1,227.1 1054.4,225.3 C1060.7,223.6 1067.0,221.4 1073.4,219.9 C1079.7,218.3 1086.0,216.7 1092.3,215.7 C1098.6,214.8 1105.0,214.4 1111.3,213.9 C1117.6,213.5 1124.4,213.2 1130.2,213.0 C1136.0,212.8 1143.5,212.6 1146.1,212.5 C1146.3,214.2 1147.4,219.0 1147.3,222.6 C1147.2,226.2 1146.3,231.2 1145.4,234.0 C1144.4,236.8 1143.5,237.9 1141.6,239.5 C1139.7,241.1 1137.5,242.0 1134.0,243.6 C1130.5,245.2 1126.1,247.3 1120.7,249.1 C1115.4,250.8 1108.1,252.8 1101.8,254.1 C1095.5,255.4 1090.3,256.1 1082.8,256.8 C1075.4,257.6 1065.0,258.7 1057.1,258.7 C1049.2,258.7 1042.2,257.4 1035.5,256.8 C1028.7,256.2 1022.4,255.4 1016.5,255.0 C1010.6,254.6 1005.7,254.8 999.8,254.5 C993.9,254.2 987.5,253.8 981.2,253.2 C975.0,252.6 968.6,251.6 962.3,250.9 C956.0,250.2 949.7,249.6 943.3,249.1 C937.0,248.5 930.3,247.7 924.0,247.7 C917.7,247.7 911.5,248.2 905.4,249.1 C899.4,250.0 892.6,251.3 887.6,253.2 C882.6,255.1 879.5,258.4 875.5,260.5 C871.4,262.5 867.7,264.0 863.4,265.5 C859.1,267.0 854.0,268.2 849.7,269.6 C845.4,271.1 841.1,272.3 837.6,274.2 C834.1,276.1 831.8,278.4 828.9,281.0 C826.0,283.6 822.7,286.5 820.1,289.7 C817.6,292.9 815.3,297.3 813.3,300.2 C811.3,303.1 809.7,306.3 808.0,307.0 C806.3,307.8 804.8,306.2 803.1,304.8 C801.4,303.3 799.5,300.3 797.8,298.4 C796.0,296.5 793.9,294.8 792.5,293.3 C791.0,291.9 789.6,290.3 789.1,289.7" fill="none" stroke="#141414" stroke-width="2.6" stroke-linejoin="round" stroke-dasharray="3.5 3"/>
<path d="M825.5,240.4 C832.5,240.2 854.2,239.9 867.5,239.5 C880.9,239.0 892.8,238.4 905.4,237.7 C918.1,236.9 934.3,235.5 943.3,234.9 C952.3,234.3 953.1,234.3 959.5,234.0 C965.8,233.7 974.5,233.5 981.2,233.1 C988.0,232.6 994.3,231.9 1000.2,231.3 C1006.1,230.7 1012.2,230.4 1016.5,229.4 C1020.8,228.4 1023.1,227.1 1026.0,225.3 C1028.8,223.6 1031.4,221.9 1033.6,218.9 C1035.8,216.0 1037.7,211.9 1039.2,207.5 C1040.8,203.1 1041.8,198.2 1043.0,192.5 C1044.3,186.8 1045.6,180.0 1046.8,173.3 C1048.1,166.6 1049.4,158.9 1050.6,152.3 C1051.9,145.7 1053.1,138.9 1054.4,133.6 C1055.7,128.2 1056.9,123.3 1058.2,120.3 C1059.5,117.4 1060.7,115.8 1062.0,115.8 C1063.3,115.8 1064.5,118.1 1065.8,120.3 C1067.0,122.5 1068.3,127.0 1069.6,129.0 C1070.8,131.1 1072.0,132.7 1073.4,132.7 C1074.8,132.7 1076.3,130.0 1077.9,129.0 C1079.5,128.0 1081.4,126.4 1082.8,126.7 C1084.3,127.0 1085.4,128.8 1086.6,130.8 C1087.9,132.9 1089.2,135.4 1090.4,139.1 C1091.7,142.7 1092.9,148.3 1094.2,152.7 C1095.5,157.2 1096.7,162.0 1098.0,166.0 C1099.3,170.0 1100.2,172.8 1101.8,176.9 C1103.4,181.0 1105.3,186.8 1107.5,190.6 C1109.7,194.4 1112.2,197.3 1115.1,199.8 C1117.9,202.2 1121.4,204.1 1124.5,205.2 C1127.7,206.4 1129.9,206.5 1134.0,206.6 C1138.1,206.7 1143.5,205.9 1149.2,205.7 C1154.9,205.5 1162.2,205.2 1168.1,205.2 C1174.1,205.2 1182.0,205.6 1184.8,205.7 C1184.9,206.9 1185.3,209.6 1185.2,213.0 C1185.1,216.4 1184.7,222.4 1184.1,226.2 C1183.4,230.0 1182.8,233.3 1181.4,235.8 C1180.0,238.3 1177.9,239.9 1175.7,241.3 C1173.5,242.8 1172.6,243.2 1168.1,244.5 C1163.7,245.8 1155.5,247.3 1149.2,249.1 C1142.9,250.8 1136.5,252.9 1130.2,255.0 C1123.9,257.1 1117.6,259.3 1111.3,261.4 C1105.0,263.4 1098.6,265.6 1092.3,267.3 C1086.0,269.1 1079.2,270.8 1073.4,271.9 C1067.5,273.0 1061.8,273.9 1057.1,273.7 C1052.3,273.6 1050.1,272.4 1044.9,271.0 C1039.8,269.5 1032.3,266.8 1026.0,265.0 C1019.7,263.3 1014.5,262.2 1007.0,260.5 C999.6,258.8 988.7,256.6 981.2,255.0 C973.8,253.4 968.6,252.0 962.3,250.9 C956.0,249.8 949.7,248.8 943.3,248.2 C937.0,247.5 930.4,247.2 924.0,247.2 C917.6,247.2 911.1,247.2 905.1,248.2 C899.0,249.1 892.5,251.4 887.6,253.2 C882.7,254.9 879.5,256.6 875.5,258.7 C871.4,260.7 867.1,263.7 863.4,265.5 C859.6,267.3 856.9,268.5 853.1,269.6 C849.4,270.8 844.7,270.4 841.0,272.3 C837.3,274.3 833.9,277.8 830.8,281.0 C827.6,284.2 824.9,288.6 822.0,291.5 C819.1,294.4 815.9,297.5 813.3,298.4 C810.7,299.2 809.1,297.7 806.5,296.5 C803.9,295.4 800.4,293.0 797.8,291.5 C795.2,290.1 792.4,288.7 791.0,287.9 C789.5,287.0 789.4,286.7 789.1,286.5 C789.1,278.9 789.1,251.0 789.1,240.8 C789.1,230.7 788.7,229.2 789.1,225.8 C789.4,222.4 790.1,222.1 791.0,220.3 C791.8,218.6 793.2,216.7 794.4,215.3 C795.5,213.8 795.8,213.2 797.8,211.6 C799.8,210.0 803.6,207.4 806.5,205.7 C809.4,203.9 812.9,202.3 815.2,201.1 C817.5,200.0 819.3,199.2 820.1,198.9" fill="none" stroke="#141414" stroke-width="2.6" stroke-linejoin="round"/>
<path d="M825.5,240.4 C832.5,240.2 854.2,239.9 867.5,239.5 C880.9,239.0 892.8,238.4 905.4,237.7 C918.1,236.9 934.3,235.5 943.3,234.9 C952.3,234.3 953.1,234.3 959.5,234.0 C965.8,233.7 974.5,233.4 981.2,233.1 C988.0,232.8 994.3,232.4 1000.2,232.2 C1006.1,231.9 1010.9,232.0 1016.5,231.7 C1022.1,231.4 1029.8,231.9 1033.6,230.4 C1037.4,228.8 1037.7,226.4 1039.2,222.6 C1040.8,218.8 1041.8,213.8 1043.0,207.5 C1044.3,201.2 1045.6,192.6 1046.8,184.7 C1048.1,176.8 1049.4,168.0 1050.6,160.0 C1051.9,152.1 1053.1,143.8 1054.4,137.2 C1055.7,130.6 1056.8,124.3 1058.2,120.3 C1059.6,116.4 1061.2,113.0 1062.8,113.5 C1064.3,113.9 1065.9,119.9 1067.7,123.1 C1069.4,126.3 1071.8,129.3 1073.4,132.7 C1074.9,136.0 1075.9,138.9 1077.2,143.2 C1078.4,147.4 1079.7,152.9 1080.9,158.2 C1082.2,163.5 1083.5,168.8 1084.7,175.1 C1086.0,181.4 1087.3,190.1 1088.5,196.1 C1089.8,202.1 1091.1,207.5 1092.3,211.2 C1093.6,214.8 1094.2,216.7 1096.1,218.0 C1098.0,219.3 1099.6,218.8 1103.7,218.9 C1107.8,219.1 1114.7,219.2 1120.7,218.9 C1126.8,218.6 1133.4,217.6 1139.7,217.1 C1146.0,216.6 1151.1,216.1 1158.7,215.7 C1166.2,215.4 1180.5,215.0 1184.8,214.8 C1184.9,216.1 1185.4,219.4 1185.2,222.6 C1184.9,225.8 1184.2,231.2 1183.3,234.0 C1182.3,236.8 1181.4,237.9 1179.5,239.5 C1177.6,241.1 1177.0,242.1 1171.9,243.6 C1166.9,245.0 1156.1,246.6 1149.2,248.2 C1142.2,249.7 1136.5,251.0 1130.2,252.7 C1123.9,254.5 1117.6,256.9 1111.3,258.7 C1105.0,260.4 1098.6,262.0 1092.3,263.2 C1086.0,264.4 1079.2,265.3 1073.4,266.0 C1067.5,266.6 1063.4,267.8 1057.1,267.3 C1050.7,266.9 1042.2,264.5 1035.5,263.2 C1028.7,261.9 1022.8,260.8 1016.5,259.6 C1010.2,258.3 1003.4,257.0 997.6,255.9 C991.7,254.8 987.1,254.2 981.2,253.2 C975.4,252.2 968.6,250.8 962.3,250.0 C956.0,249.1 952.8,248.3 943.3,248.2 C933.9,248.0 914.7,248.2 905.4,249.1 C896.1,249.9 893.9,251.3 887.6,253.2 C881.3,255.1 873.3,258.7 867.5,260.5 C861.8,262.2 857.5,262.8 853.1,263.7 C848.7,264.5 844.5,264.4 841.0,265.5 C837.5,266.6 835.2,268.2 832.3,270.5 C829.4,272.8 825.8,277.0 823.6,279.2 C821.3,281.4 821.2,284.0 818.6,283.8 C816.0,283.5 811.5,279.7 808.0,277.8 C804.5,275.9 800.7,273.8 797.8,272.3 C794.8,270.9 791.5,269.7 790.2,269.2 C789.9,264.4 788.6,248.5 788.3,240.8 C788.0,233.2 787.7,226.6 788.7,223.5 C789.7,220.4 792.3,223.0 794.4,222.1 C796.5,221.3 798.6,219.9 801.2,218.5 C803.8,217.0 807.0,215.1 809.9,213.5 C812.8,211.9 816.4,209.8 818.6,208.9 C820.9,208.0 822.7,208.1 823.6,208.0" fill="none" stroke="#3b90d8" stroke-width="2.6" stroke-linejoin="round"/>
<path d="M166.6,765.6 C166.4,758.9 165.5,739.8 165.4,725.4 C165.4,711.1 165.7,691.2 166.2,679.8 C166.7,668.4 167.4,662.7 168.5,656.9 C169.5,651.2 170.4,648.4 172.3,645.5 C174.1,642.6 176.6,642.0 179.5,639.6 C182.3,637.2 186.0,633.7 189.3,631.4 C192.6,629.1 196.5,626.4 199.2,625.9 C201.9,625.4 202.9,627.2 205.3,628.6 C207.6,630.1 210.3,633.7 213.2,634.6 C216.2,635.4 219.8,634.2 223.1,633.7 C226.4,633.1 230.4,631.2 233.0,631.4 C235.6,631.5 236.1,632.7 238.7,634.6 C241.3,636.4 244.9,639.7 248.5,642.3 C252.2,644.9 256.7,647.7 260.7,650.1 C264.7,652.5 267.9,655.1 272.4,656.5 C277.0,657.9 280.2,658.3 288.0,658.3 C295.8,658.3 307.9,657.5 319.5,656.5 C331.1,655.5 344.8,653.5 357.5,652.4 C370.1,651.2 386.0,650.0 395.4,649.6 C404.8,649.3 407.3,649.8 413.6,650.1 C419.9,650.4 427.7,651.6 433.4,651.5 C439.0,651.3 443.2,650.3 447.4,649.2 C451.6,648.0 454.2,646.4 458.8,644.6 C463.3,642.9 469.4,639.7 474.7,638.7 C480.0,637.7 484.9,638.3 490.7,638.7 C496.4,639.1 503.6,640.6 509.3,641.0 C514.9,641.3 521.9,641.0 524.4,641.0 C524.4,643.9 524.6,652.8 524.4,658.3 C524.2,663.8 524.1,669.0 523.3,673.8 C522.5,678.7 521.6,683.7 519.9,687.5 C518.2,691.3 516.1,694.0 513.0,696.7 C510.0,699.3 506.9,701.2 501.7,703.5 C496.4,705.8 488.7,707.9 481.5,710.4 C474.4,712.8 466.8,715.5 458.8,718.1 C450.7,720.7 441.6,723.6 433.4,725.9 C425.1,728.2 418.0,730.5 409.1,731.8 C400.1,733.2 388.1,733.8 379.5,734.1 C370.9,734.4 364.5,734.3 357.5,733.7 C350.4,733.0 343.7,730.9 337.3,730.0 C331.0,729.1 325.7,728.6 319.5,728.2 C313.3,727.7 306.5,727.3 300.1,727.3 C293.8,727.3 286.9,727.5 281.6,728.2 C276.2,728.9 273.1,729.7 268.3,731.4 C263.5,733.1 257.6,735.9 252.7,738.2 C247.8,740.5 243.3,743.1 238.7,745.1 C234.0,747.1 229.9,748.3 225.0,750.1 C220.1,751.9 213.4,753.9 209.1,756.0 C204.8,758.2 202.2,760.0 199.2,762.9 C196.2,765.8 193.5,771.0 191.2,773.4 C189.0,775.8 187.5,777.1 185.5,777.5 C183.6,777.9 181.5,777.0 179.5,775.7 C177.4,774.4 175.5,771.4 173.4,769.7 C171.2,768.1 167.7,766.3 166.6,765.6" fill="none" stroke="#3b90d8" stroke-width="2.6" stroke-linejoin="round" stroke-dasharray="5.5 4"/>
<path d="M165.8,795.3 C165.6,789.0 164.7,771.3 164.7,757.4 C164.6,743.5 165.0,725.4 165.4,711.7 C165.8,698.0 166.2,684.7 166.9,675.2 C167.6,665.8 168.1,660.8 169.6,655.1 C171.1,649.5 173.3,645.0 175.7,641.4 C178.0,637.8 180.4,637.2 183.6,633.7 C186.9,630.1 191.2,622.9 195.4,620.0 C199.6,617.0 205.1,616.7 209.1,615.9 C213.0,615.0 216.3,614.6 218.9,614.9 C221.6,615.2 222.3,615.5 225.0,617.7 C227.7,619.8 231.6,624.5 234.9,627.7 C238.2,631.0 241.1,634.0 244.7,637.3 C248.3,640.6 252.6,644.5 256.5,647.4 C260.4,650.2 264.1,652.4 268.3,654.2 C272.4,656.0 276.2,657.5 281.6,658.3 C286.9,659.2 293.8,659.2 300.1,659.2 C306.5,659.2 309.9,659.1 319.5,658.3 C329.1,657.6 347.5,655.4 357.5,654.7 C367.4,653.9 373.1,653.9 379.5,653.8 C385.8,653.6 389.7,653.8 395.4,653.8 C401.1,653.8 407.3,653.4 413.6,653.8 C419.9,654.1 426.6,656.0 433.4,656.0 C440.1,656.0 447.9,654.7 454.2,653.8 C460.5,652.8 464.8,651.5 471.3,650.1 C477.8,648.7 486.6,646.8 492.9,645.5 C499.3,644.2 504.4,643.2 509.3,642.3 C514.1,641.4 520.0,640.4 522.2,640.1 C522.3,642.0 523.2,646.6 523.3,651.5 C523.4,656.3 523.1,664.0 522.5,669.3 C522.0,674.5 521.1,679.2 519.9,683.0 C518.7,686.8 517.6,689.4 515.3,692.1 C513.0,694.8 509.9,697.1 506.2,699.0 C502.5,700.9 498.8,701.6 492.9,703.5 C487.1,705.4 478.9,708.3 471.3,710.4 C463.7,712.4 455.1,714.3 447.4,715.9 C439.7,717.4 432.5,718.5 425.0,719.5 C417.5,720.5 409.8,721.1 402.2,721.8 C394.6,722.5 386.9,723.2 379.5,723.6 C372.0,724.1 364.5,724.6 357.5,724.5 C350.4,724.5 343.7,723.4 337.3,723.2 C331.0,722.9 325.7,723.3 319.5,723.2 C313.3,723.0 306.5,722.3 300.1,722.2 C293.8,722.2 287.5,722.0 281.6,722.7 C275.6,723.4 270.0,724.7 264.5,726.4 C259.0,728.0 253.8,730.5 248.5,732.7 C243.3,735.0 238.5,736.9 233.0,740.1 C227.4,743.3 220.5,747.0 215.1,751.9 C209.8,756.9 205.4,764.8 201.1,769.7 C196.8,774.7 192.9,778.3 189.3,781.6 C185.7,784.9 182.4,787.4 179.5,789.4 C176.5,791.3 173.8,792.5 171.5,793.5 C169.2,794.5 166.8,795.0 165.8,795.3" fill="none" stroke="#141414" stroke-width="2.6" stroke-linejoin="round" stroke-dasharray="3.2 2.8"/>
<path d="M205.7,672.0 C212.0,671.3 231.0,669.4 243.6,667.9 C256.2,666.5 268.9,664.8 281.6,663.3 C294.2,661.9 306.9,660.6 319.5,659.2 C332.2,657.9 347.5,656.3 357.5,655.1 C367.4,654.0 373.1,653.2 379.5,652.4 C385.8,651.5 390.5,650.6 395.4,650.1 C400.3,649.6 405.3,649.9 409.1,649.2 C412.9,648.4 415.2,647.8 418.2,645.5 C421.1,643.2 424.3,640.6 426.9,635.5 C429.5,630.4 431.6,621.0 433.7,614.9 C435.8,608.9 437.1,603.4 439.4,599.0 C441.7,594.5 444.9,591.1 447.4,588.0 C449.9,584.9 452.1,583.4 454.2,580.2 C456.3,577.1 458.0,574.6 459.9,569.3 C461.8,563.9 463.7,556.9 465.6,548.3 C467.5,539.7 469.6,527.3 471.3,517.7 C473.0,508.0 474.3,496.7 475.9,490.3 C477.4,483.8 479.3,480.0 480.8,478.9 C482.3,477.7 483.5,480.0 485.0,483.4 C486.4,486.9 488.0,492.9 489.5,499.4 C491.0,505.9 492.6,513.9 494.1,522.2 C495.5,530.5 496.8,540.9 498.2,549.2 C499.7,557.5 501.1,564.8 502.8,572.0 C504.5,579.2 506.4,586.9 508.5,592.6 C510.6,598.2 512.7,602.5 515.3,605.8 C518.0,609.2 520.6,611.1 524.4,612.7 C528.2,614.2 532.0,614.7 538.1,614.9 C544.2,615.2 557.1,614.2 560.9,614.0 C560.9,616.5 560.9,622.4 560.9,628.6 C560.9,634.9 561.2,645.1 560.9,651.5 C560.5,657.9 559.7,662.1 558.6,667.0 C557.4,671.9 555.9,676.7 554.0,680.7 C552.1,684.7 549.9,688.1 547.2,690.7 C544.5,693.4 541.9,694.9 538.1,696.7 C534.3,698.4 529.2,699.7 524.4,701.2 C519.6,702.8 514.5,704.1 509.3,705.8 C504.0,707.5 499.3,709.1 492.9,711.3 C486.6,713.5 478.9,715.9 471.3,719.0 C463.7,722.2 453.7,727.2 447.4,730.5 C441.1,733.7 438.2,736.9 433.4,738.7 C428.5,740.4 424.5,741.2 418.2,741.0 C411.8,740.7 402.2,738.1 395.4,737.3 C388.6,736.6 383.5,737.4 377.2,736.4 C370.9,735.4 364.1,733.1 357.5,731.4 C350.8,729.7 343.7,727.5 337.3,726.4 C331.0,725.2 325.7,725.1 319.5,724.5 C313.3,724.0 306.5,723.2 300.1,723.2 C293.8,723.2 286.9,723.8 281.6,724.5 C276.2,725.2 273.1,725.4 268.3,727.3 C263.5,729.2 257.6,733.1 252.7,735.9 C247.8,738.8 243.3,741.8 238.7,744.2 C234.0,746.5 229.2,747.8 225.0,750.1 C220.8,752.4 217.2,754.6 213.2,757.9 C209.3,761.1 204.4,766.5 201.1,769.7 C197.8,773.0 196.1,775.2 193.5,777.5 C190.9,779.8 188.2,781.9 185.5,783.4 C182.9,785.0 180.2,785.6 177.6,786.6 C174.9,787.6 171.7,787.2 169.6,789.4 C167.4,791.5 165.5,797.7 164.7,799.4 C164.7,792.5 164.5,771.3 164.7,757.9 C164.9,744.4 165.3,731.8 165.8,718.6 C166.3,705.4 167.1,688.8 167.7,678.9 C168.3,669.0 168.6,664.8 169.6,659.2 C170.6,653.7 171.8,649.2 173.8,645.5 C175.7,641.9 178.5,640.0 181.4,637.3 C184.3,634.7 187.9,631.8 191.2,629.6 C194.5,627.3 199.5,624.6 201.1,623.6" fill="none" stroke="#141414" stroke-width="2.6" stroke-linejoin="round"/>
<path d="M202.2,684.8 C202.4,683.2 202.6,677.6 203.4,675.2 C204.2,672.8 200.5,671.9 207.2,670.2 C213.9,668.5 231.2,666.8 243.6,665.2 C256.0,663.5 268.9,661.8 281.6,660.1 C294.2,658.5 306.9,656.8 319.5,655.1 C332.2,653.4 347.5,651.5 357.5,650.1 C367.4,648.7 373.1,647.8 379.5,646.9 C385.8,646.0 390.5,645.4 395.4,644.6 C400.3,643.9 404.9,644.2 409.1,642.3 C413.2,640.4 417.5,636.4 420.4,633.2 C423.4,630.0 424.7,625.8 426.9,623.2 C429.1,620.5 431.5,618.0 433.7,617.2 C436.0,616.5 438.3,619.7 440.6,618.6 C442.8,617.5 445.1,616.2 447.4,610.4 C449.7,604.5 452.1,592.9 454.2,583.4 C456.3,574.0 458.0,564.3 459.9,553.8 C461.8,543.2 463.9,530.5 465.6,520.0 C467.3,509.4 469.0,497.3 470.2,490.3 C471.4,483.3 471.9,479.5 472.8,478.0 C473.8,476.4 474.8,476.8 475.9,481.1 C476.9,485.5 478.1,494.5 479.3,504.0 C480.4,513.4 481.5,526.4 482.7,537.8 C483.8,549.1 484.8,561.4 486.1,572.0 C487.4,582.7 489.1,593.8 490.7,601.7 C492.2,609.6 493.4,614.9 495.2,619.5 C497.0,624.1 499.1,627.5 501.7,629.6 C504.3,631.6 506.6,631.5 510.8,631.8 C514.9,632.1 520.3,631.5 526.7,631.4 C533.2,631.3 543.8,631.3 549.5,631.4 C555.2,631.5 559.0,631.8 560.9,631.8 C561.1,635.1 562.0,645.6 562.0,651.5 C562.0,657.3 561.6,661.7 560.9,667.0 C560.1,672.2 559.0,678.4 557.4,683.0 C555.9,687.5 554.2,691.7 551.8,694.4 C549.3,697.1 547.2,697.4 542.6,699.0 C538.1,700.5 530.0,702.2 524.4,703.5 C518.9,704.8 514.5,705.2 509.3,706.7 C504.0,708.2 499.3,710.0 492.9,712.7 C486.6,715.3 478.9,719.0 471.3,722.7 C463.7,726.4 453.7,732.2 447.4,735.0 C441.1,737.8 438.2,738.6 433.4,739.6 C428.5,740.6 424.5,740.7 418.2,741.0 C411.8,741.2 402.2,741.1 395.4,741.0 C388.6,740.8 383.5,740.8 377.2,740.1 C370.9,739.3 364.1,738.0 357.5,736.4 C350.8,734.8 343.7,731.8 337.3,730.5 C331.0,729.1 325.7,728.7 319.5,728.2 C313.3,727.6 306.5,727.3 300.1,727.3 C293.8,727.3 286.9,727.5 281.6,728.2 C276.2,728.9 273.1,729.8 268.3,731.4 C263.5,733.0 257.6,735.9 252.7,737.8 C247.8,739.6 243.3,740.9 238.7,742.3 C234.0,743.8 229.9,744.8 225.0,746.4 C220.1,748.0 213.4,749.6 209.1,751.9 C204.8,754.2 202.2,757.3 199.2,760.1 C196.2,763.0 193.5,766.9 191.2,768.8 C189.0,770.7 187.5,771.6 185.5,771.6 C183.6,771.6 181.8,770.4 179.5,768.8 C177.1,767.2 173.6,763.5 171.5,762.0 C169.3,760.5 167.4,760.1 166.6,759.7 C166.2,752.8 164.8,732.1 164.7,718.6 C164.5,705.1 165.3,688.8 165.8,678.9 C166.3,669.0 166.8,664.2 167.7,659.2 C168.6,654.3 169.5,652.5 171.5,649.2 C173.5,645.9 176.5,642.6 179.5,639.6 C182.4,636.6 186.0,633.5 189.3,631.4 C192.6,629.2 196.9,627.7 199.2,626.8 C201.5,625.9 202.7,626.1 203.4,625.9" fill="none" stroke="#3b90d8" stroke-width="2.6" stroke-linejoin="round"/>
<path d="M790.5,742.0 C790.1,737.0 788.4,722.2 788.2,711.8 C788.0,701.5 788.6,687.2 789.4,679.8 C790.2,672.4 791.8,670.2 793.2,667.5 C794.5,664.7 795.2,665.0 797.3,663.4 C799.5,661.8 803.2,659.8 806.1,657.9 C809.0,656.0 811.9,654.1 814.8,651.9 C817.6,649.7 821.1,646.0 823.1,644.6 C825.2,643.2 825.5,643.1 826.9,643.7 C828.4,644.3 829.6,646.5 831.9,648.3 C834.1,650.0 837.7,652.9 840.6,654.2 C843.5,655.5 846.4,656.2 849.3,656.0 C852.2,655.9 855.1,653.9 858.0,653.3 C860.9,652.7 863.9,652.1 866.8,652.4 C869.6,652.7 872.3,653.5 875.1,655.1 C878.0,656.7 880.9,659.7 883.8,662.0 C886.7,664.3 889.7,666.9 892.6,668.8 C895.5,670.8 896.9,672.4 901.3,673.4 C905.6,674.5 911.8,675.1 918.7,675.2 C925.7,675.4 932.6,674.7 943.0,674.3 C953.4,674.0 968.3,673.6 981.0,673.0 C993.6,672.4 1006.2,671.7 1018.9,670.7 C1031.5,669.7 1047.8,667.9 1056.8,667.0 C1065.9,666.1 1067.3,666.2 1073.1,665.2 C1079.0,664.2 1085.8,662.5 1092.1,661.1 C1098.4,659.6 1104.7,657.6 1111.1,656.5 C1117.4,655.4 1124.5,655.0 1130.0,654.7 C1135.5,654.4 1141.7,654.7 1144.1,654.7 C1144.6,656.4 1146.8,660.9 1147.1,665.2 C1147.4,669.5 1146.9,675.9 1146.0,680.3 C1145.0,684.7 1144.1,688.7 1141.4,691.7 C1138.8,694.7 1135.1,696.3 1130.0,698.1 C1125.0,699.9 1117.4,701.1 1111.1,702.7 C1104.7,704.3 1098.4,706.6 1092.1,707.7 C1085.8,708.8 1079.0,709.2 1073.1,709.5 C1067.3,709.8 1063.1,709.8 1056.8,709.5 C1050.5,709.2 1042.0,708.2 1035.2,707.7 C1028.4,707.2 1022.6,707.1 1016.2,706.8 C1009.9,706.5 1003.1,705.8 997.3,705.9 C991.4,706.0 986.8,707.0 981.0,707.2 C975.1,707.5 968.3,707.5 962.0,707.2 C955.7,707.0 949.4,706.3 943.0,705.9 C936.6,705.5 930.0,704.7 923.7,705.0 C917.3,705.2 911.1,705.7 905.1,707.2 C899.0,708.8 892.5,711.5 887.2,714.1 C882.0,716.7 877.6,721.0 873.6,722.8 C869.6,724.6 867.4,724.6 863.3,725.1 C859.3,725.5 853.7,725.1 849.3,725.5 C845.0,726.0 840.3,726.5 837.2,727.8 C834.0,729.1 832.7,731.2 830.3,733.3 C828.0,735.4 825.5,737.3 823.1,740.2 C820.8,743.1 819.2,749.2 816.3,750.7 C813.5,752.1 809.2,749.7 806.1,748.8 C802.9,748.0 799.9,746.8 797.3,745.6 C794.7,744.5 791.7,742.6 790.5,742.0" fill="none" stroke="#3b90d8" stroke-width="2.6" stroke-linejoin="round" stroke-dasharray="5.5 4"/>
<path d="M788.6,766.2 C788.6,761.0 788.2,746.0 788.2,734.7 C788.3,723.3 788.5,707.9 789.0,698.1 C789.5,688.4 790.2,682.4 791.3,676.2 C792.3,669.9 793.5,665.0 795.4,660.6 C797.3,656.3 800.0,653.6 802.7,650.1 C805.3,646.6 808.5,643.1 811.4,639.6 C814.2,636.1 817.4,631.3 819.7,629.1 C822.0,626.9 823.3,626.2 825.0,626.3 C826.8,626.5 828.0,628.4 830.3,630.0 C832.7,631.6 835.9,634.6 839.1,635.9 C842.2,637.2 845.3,637.2 849.3,637.8 C853.4,638.4 859.6,638.6 863.3,639.6 C867.1,640.6 868.8,641.4 871.7,643.7 C874.5,646.0 877.5,650.0 880.4,653.3 C883.3,656.7 886.2,660.9 889.1,663.8 C892.1,666.7 895.0,669.1 897.9,670.7 C900.8,672.3 903.1,672.8 906.6,673.4 C910.1,674.0 913.9,674.3 918.7,674.3 C923.6,674.3 928.6,673.9 935.8,673.4 C943.0,673.0 954.5,671.9 962.0,671.6 C969.5,671.3 971.5,672.0 981.0,671.6 C990.4,671.1 1006.2,669.8 1018.9,668.8 C1031.5,667.9 1047.8,667.4 1056.8,666.1 C1065.9,664.8 1067.3,662.8 1073.1,661.1 C1079.0,659.3 1085.8,657.5 1092.1,655.6 C1098.4,653.7 1104.7,651.2 1111.1,649.6 C1117.4,648.0 1124.2,647.0 1130.0,646.0 C1135.9,645.0 1143.3,644.1 1146.0,643.7 C1146.2,646.0 1147.1,652.6 1147.1,657.4 C1147.1,662.2 1146.6,668.1 1146.0,672.5 C1145.3,676.9 1144.7,680.4 1143.3,683.9 C1141.9,687.4 1140.5,691.0 1137.6,693.5 C1134.8,696.0 1130.7,697.1 1126.2,699.0 C1121.8,700.9 1116.8,703.1 1111.1,705.0 C1105.4,706.9 1098.4,709.1 1092.1,710.4 C1085.8,711.8 1079.0,712.7 1073.1,713.2 C1067.3,713.6 1063.1,713.5 1056.8,713.2 C1050.5,712.9 1042.0,712.1 1035.2,711.4 C1028.4,710.6 1022.6,709.2 1016.2,708.6 C1009.9,708.0 1003.1,707.6 997.3,707.7 C991.4,707.8 986.8,709.0 981.0,709.1 C975.1,709.2 968.3,708.5 962.0,708.2 C955.7,707.9 949.4,707.5 943.0,707.2 C936.6,707.0 930.0,706.6 923.7,706.8 C917.3,707.0 910.5,707.7 905.1,708.6 C899.6,709.5 895.7,710.2 891.0,712.3 C886.4,714.3 881.1,718.2 877.0,721.0 C873.0,723.7 870.2,726.8 866.8,728.7 C863.3,730.6 859.6,731.2 856.1,732.4 C852.7,733.5 849.9,734.0 845.9,735.6 C841.9,737.2 835.3,739.2 831.9,742.0 C828.4,744.8 827.3,748.5 825.0,752.5 C822.8,756.5 820.5,762.5 818.2,766.2 C815.9,769.9 814.0,772.7 811.4,774.9 C808.8,777.1 805.6,779.5 802.7,779.5 C799.7,779.5 796.3,777.1 793.9,774.9 C791.6,772.7 789.5,767.7 788.6,766.2" fill="none" stroke="#141414" stroke-width="2.6" stroke-linejoin="round" stroke-dasharray="5.5 4"/>
<path d="M825.8,682.1 C832.7,681.6 853.9,680.2 867.1,679.4 C880.4,678.5 895.7,677.9 905.1,677.1 C914.5,676.2 917.3,675.7 923.7,674.3 C930.0,673.0 936.6,671.7 943.0,669.1 C949.4,666.5 955.7,662.0 962.0,658.8 C968.3,655.6 974.6,653.0 981.0,649.6 C987.3,646.3 994.0,643.1 999.9,638.7 C1005.8,634.3 1011.9,627.9 1016.2,623.1 C1020.5,618.3 1022.9,615.2 1025.7,609.9 C1028.6,604.5 1031.1,597.4 1033.3,591.1 C1035.5,584.9 1037.3,577.7 1039.0,572.4 C1040.7,567.1 1041.8,562.2 1043.5,559.1 C1045.3,556.1 1047.3,553.8 1049.2,554.1 C1051.1,554.4 1053.0,557.0 1054.9,561.0 C1056.8,564.9 1058.8,571.6 1060.6,577.9 C1062.4,584.2 1063.8,591.7 1065.5,598.9 C1067.3,606.1 1069.0,615.4 1071.2,621.3 C1073.4,627.3 1076.0,631.4 1078.8,634.6 C1081.7,637.8 1084.5,639.4 1088.3,640.5 C1092.1,641.7 1096.2,641.6 1101.6,641.4 C1107.0,641.3 1114.2,640.2 1120.6,639.6 C1126.9,639.0 1133.2,638.6 1139.5,637.8 C1145.8,636.9 1150.9,635.4 1158.5,634.6 C1166.1,633.7 1180.6,633.0 1185.0,632.7 C1185.0,635.6 1185.2,643.6 1185.0,649.6 C1184.9,655.7 1184.5,663.7 1183.9,668.8 C1183.3,674.0 1182.6,676.7 1181.3,680.3 C1179.9,683.9 1177.8,688.0 1175.6,690.3 C1173.3,692.7 1172.4,693.0 1168.0,694.4 C1163.5,695.9 1155.3,697.3 1149.0,699.0 C1142.7,700.8 1136.4,702.8 1130.0,705.0 C1123.7,707.2 1117.4,709.8 1111.1,712.3 C1104.7,714.8 1098.4,717.7 1092.1,720.0 C1085.8,722.4 1079.0,725.1 1073.1,726.4 C1067.3,727.8 1063.1,728.1 1056.8,728.3 C1050.5,728.4 1042.0,728.1 1035.2,727.4 C1028.4,726.6 1022.2,724.8 1016.2,723.7 C1010.3,722.6 1005.4,722.0 999.5,721.0 C993.7,719.9 987.2,718.8 981.0,717.3 C974.7,715.9 968.3,713.8 962.0,712.3 C955.7,710.8 949.4,709.0 943.0,708.2 C936.6,707.3 930.0,707.1 923.7,707.2 C917.3,707.4 910.5,708.2 905.1,709.1 C899.6,709.9 895.7,710.3 891.0,712.3 C886.4,714.3 881.1,718.1 877.0,721.0 C873.0,723.9 870.2,727.6 866.8,729.6 C863.3,731.7 859.6,732.1 856.1,733.3 C852.7,734.5 849.4,735.1 845.9,737.0 C842.4,738.9 838.4,741.6 835.3,744.7 C832.1,747.9 829.5,751.8 826.9,755.7 C824.3,759.6 821.7,765.2 819.7,768.0 C817.7,770.9 816.8,772.8 814.8,772.6 C812.8,772.5 809.9,769.0 807.6,767.1 C805.2,765.2 803.0,762.6 800.8,761.2 C798.5,759.7 796.1,758.9 793.9,758.4 C791.8,758.0 788.9,758.4 787.9,758.4 C787.9,754.0 787.7,741.8 787.9,731.5 C788.0,721.2 788.3,705.4 788.6,696.7 C788.9,688.0 789.3,683.7 789.8,679.4 C790.2,675.0 790.3,673.6 791.3,670.7 C792.2,667.8 793.5,665.2 795.4,662.0 C797.3,658.8 800.0,654.6 802.7,651.5 C805.3,648.4 808.5,645.5 811.4,643.2 C814.2,641.0 817.3,639.1 819.7,637.8 C822.1,636.4 824.8,635.5 825.8,635.0" fill="none" stroke="#141414" stroke-width="2.6" stroke-linejoin="round"/>
<path d="M825.8,683.0 C832.7,682.6 853.9,681.3 867.1,680.3 C880.4,679.3 895.7,677.9 905.1,677.1 C914.5,676.2 917.3,676.2 923.7,675.2 C930.0,674.3 936.6,673.2 943.0,671.6 C949.4,670.0 955.7,667.7 962.0,665.6 C968.3,663.6 974.6,662.2 981.0,659.2 C987.3,656.3 994.0,651.9 999.9,647.8 C1005.8,643.7 1011.6,639.3 1016.2,634.6 C1020.8,629.8 1024.4,625.1 1027.6,619.5 C1030.8,613.8 1033.0,606.7 1035.2,600.7 C1037.4,594.8 1039.0,588.1 1040.9,583.8 C1042.8,579.6 1044.7,575.1 1046.6,575.1 C1048.5,575.1 1050.4,579.3 1052.3,583.8 C1054.2,588.4 1056.1,596.0 1058.0,602.6 C1059.9,609.1 1061.8,616.5 1063.6,623.1 C1065.5,629.8 1067.1,637.2 1069.3,642.3 C1071.6,647.4 1073.8,651.6 1076.9,653.8 C1080.1,656.0 1082.6,655.7 1088.3,655.6 C1094.0,655.4 1104.1,653.6 1111.1,652.8 C1118.0,652.1 1123.7,651.3 1130.0,651.0 C1136.4,650.7 1139.8,651.0 1149.0,651.0 C1158.2,651.0 1179.0,651.0 1185.0,651.0 C1185.0,654.0 1185.4,663.4 1185.0,668.8 C1184.7,674.3 1184.1,680.1 1183.1,683.9 C1182.2,687.7 1181.3,689.8 1179.4,691.7 C1177.5,693.6 1176.8,694.0 1171.8,695.4 C1166.7,696.7 1156.0,698.5 1149.0,699.9 C1142.1,701.4 1136.4,702.8 1130.0,704.0 C1123.7,705.3 1117.4,706.5 1111.1,707.7 C1104.7,708.9 1098.4,709.8 1092.1,711.4 C1085.8,713.0 1079.0,716.0 1073.1,717.3 C1067.3,718.6 1063.1,719.0 1056.8,719.1 C1050.5,719.3 1042.0,718.7 1035.2,718.2 C1028.4,717.8 1022.2,716.9 1016.2,716.4 C1010.3,715.9 1005.4,715.7 999.5,715.0 C993.7,714.3 987.2,713.3 981.0,712.3 C974.7,711.3 968.3,710.1 962.0,709.1 C955.7,708.1 949.4,706.9 943.0,706.3 C936.6,705.7 930.0,705.3 923.7,705.4 C917.3,705.6 911.1,705.8 905.1,707.2 C899.0,708.7 892.5,711.5 887.2,714.1 C882.0,716.7 877.6,721.0 873.6,722.8 C869.6,724.5 867.4,724.3 863.3,724.6 C859.3,724.9 853.7,724.3 849.3,724.6 C845.0,724.9 840.3,725.3 837.2,726.4 C834.0,727.6 832.4,729.2 830.3,731.5 C828.3,733.8 826.8,737.3 825.0,740.2 C823.3,743.1 821.4,746.8 819.7,748.8 C818.0,750.9 817.1,752.8 814.8,752.5 C812.5,752.2 809.0,749.4 806.1,747.0 C803.2,744.7 799.9,740.3 797.3,738.3 C794.7,736.4 792.1,735.7 790.5,735.1 C788.9,734.5 788.3,734.8 787.9,734.7 C787.9,728.4 787.5,706.0 787.9,696.7 C788.2,687.5 788.9,684.2 789.8,679.4 C790.6,674.5 791.9,670.1 793.2,667.5 C794.4,664.9 795.2,665.3 797.3,663.8 C799.5,662.4 803.2,660.5 806.1,658.8 C809.0,657.0 811.9,655.1 814.8,653.3 C817.6,651.6 821.3,649.3 823.1,648.3 C825.0,647.3 825.4,647.5 825.8,647.4" fill="none" stroke="#3b90d8" stroke-width="2.6" stroke-linejoin="round"/>
<line x1="173" y1="1209.9" x2="166" y2="1209.9" stroke="#707070" stroke-width="2"/>
<line x1="173" y1="1179.4" x2="169" y2="1179.4" stroke="#707070" stroke-width="2"/>
<line x1="173" y1="1148.8" x2="166" y2="1148.8" stroke="#707070" stroke-width="2"/>
<line x1="173" y1="1118.3" x2="169" y2="1118.3" stroke="#707070" stroke-width="2"/>
<line x1="173" y1="1087.8" x2="166" y2="1087.8" stroke="#707070" stroke-width="2"/>
<line x1="173" y1="1057.2" x2="169" y2="1057.2" stroke="#707070" stroke-width="2"/>
<line x1="173" y1="1026.7" x2="166" y2="1026.7" stroke="#707070" stroke-width="2"/>
<line x1="173" y1="996.2" x2="169" y2="996.2" stroke="#707070" stroke-width="2"/>
<line x1="173" y1="965.7" x2="166" y2="965.7" stroke="#707070" stroke-width="2"/>
<line x1="173" y1="935.1" x2="169" y2="935.1" stroke="#707070" stroke-width="2"/>
<line x1="173" y1="904.6" x2="166" y2="904.6" stroke="#707070" stroke-width="2"/>
<line x1="220.9" y1="1209.9" x2="220.9" y2="1216.9" stroke="#707070" stroke-width="2"/>
<line x1="316.7" y1="1209.9" x2="316.7" y2="1216.9" stroke="#707070" stroke-width="2"/>
<line x1="413.8" y1="1209.9" x2="413.8" y2="1216.9" stroke="#707070" stroke-width="2"/>
<line x1="510.3" y1="1209.9" x2="510.3" y2="1216.9" stroke="#707070" stroke-width="2"/>
<rect x="173" y="904.6" width="386.2" height="305.3" fill="none" stroke="#707070" stroke-width="2.2"/>
<text x="161.5" y="1217.3" text-anchor="end" font-size="27.5">0.5</text>
<text x="161.5" y="1156.2" text-anchor="end" font-size="27.5">0.6</text>
<text x="161.5" y="1095.2" text-anchor="end" font-size="27.5">0.7</text>
<text x="161.5" y="1034.1" text-anchor="end" font-size="27.5">0.8</text>
<text x="161.5" y="973.1" text-anchor="end" font-size="27.5">0.9</text>
<text x="161.5" y="912" text-anchor="end" font-size="27.5">1.0</text>
<text transform="translate(205.6,1263.5) rotate(-20)" font-size="27">Pt/C</text>
<text transform="translate(262.5,1277.8) rotate(-20)" font-size="27">Pt/MWCNT</text>
<text transform="translate(383.6,1268.5) rotate(-20)" font-size="27">Pt/rGO</text>
<text transform="translate(454.8,1277.6) rotate(-20)" font-size="27">Pt/ITO-rGO</text>
<rect x="195.3" y="915.2" width="9" height="9" fill="#000"/>
<polygon points="193.9,950.5 206.6,950.5 200.25,939.7" fill="#3a9af0"/>
<text x="229.8" y="926.9" font-size="22.8">HUPD</text>
<text x="229.8" y="953.2" font-size="22.8">CO</text>
<rect x="216.4" y="991.7" width="9" height="9" fill="#000"/>
<rect x="312.2" y="1027.1" width="9" height="9" fill="#000"/>
<rect x="409.3" y="1052.8" width="9" height="9" fill="#000"/>
<rect x="505.8" y="1022.2" width="9" height="9" fill="#000"/>
<polygon points="214.5,1047.4 227.3,1047.4 220.9,1036.6" fill="#3a9af0"/>
<polygon points="310.3,1097.5 323.1,1097.5 316.7,1086.7" fill="#3a9af0"/>
<polygon points="407.4,1062.7 420.2,1062.7 413.8,1051.8" fill="#3a9af0"/>
<polygon points="503.9,1117.6 516.7,1117.6 510.3,1106.8" fill="#3a9af0"/>
<text transform="translate(47.5,1131) rotate(-90)" font-size="32">EASA</text>
<text transform="translate(57,1046.5) rotate(-90)" font-size="18">after</text>
<line x1="67.5" y1="1019" x2="67.5" y2="1127.7" stroke="#1a1a1a" stroke-width="2"/>
<text transform="translate(99.2,1131) rotate(-90)" font-size="32">EASA</text>
<text transform="translate(110.8,1046.5) rotate(-90)" font-size="18">before</text>
<text transform="translate(0.21,40.5) scale(0.8,1)" font-size="39.7" font-weight="bold">(</text>
<text transform="translate(14.33,40.5) scale(0.9,1)" font-size="37" font-weight="bold">a</text>
<text transform="translate(37.27,40.5) scale(0.8,1)" font-size="39.7" font-weight="bold">)</text>
<text transform="translate(631.21,40.5) scale(0.8,1)" font-size="39.7" font-weight="bold">(</text>
<text transform="translate(645.50,40.5) scale(0.9,1)" font-size="37" font-weight="bold">b</text>
<text transform="translate(669.67,40.5) scale(0.8,1)" font-size="39.7" font-weight="bold">)</text>
<text transform="translate(0.21,486.7) scale(0.8,1)" font-size="39.7" font-weight="bold">(</text>
<text transform="translate(14.00,486.7) scale(0.9,1)" font-size="37" font-weight="bold">c</text>
<text transform="translate(32.97,486.7) scale(0.8,1)" font-size="39.7" font-weight="bold">)</text>
<text transform="translate(630.41,486.6) scale(0.8,1)" font-size="39.7" font-weight="bold">(</text>
<text transform="translate(642.23,486.6) scale(0.9,1)" font-size="37" font-weight="bold">d</text>
<text transform="translate(667.87,486.6) scale(0.8,1)" font-size="39.7" font-weight="bold">)</text>
<text transform="translate(0.21,926.7) scale(0.8,1)" font-size="39.7" font-weight="bold">(</text>
<text transform="translate(14.00,926.7) scale(0.9,1)" font-size="37" font-weight="bold">e</text>
<text transform="translate(37.27,926.7) scale(0.8,1)" font-size="39.7" font-weight="bold">)</text>
</svg>
</body></html>
